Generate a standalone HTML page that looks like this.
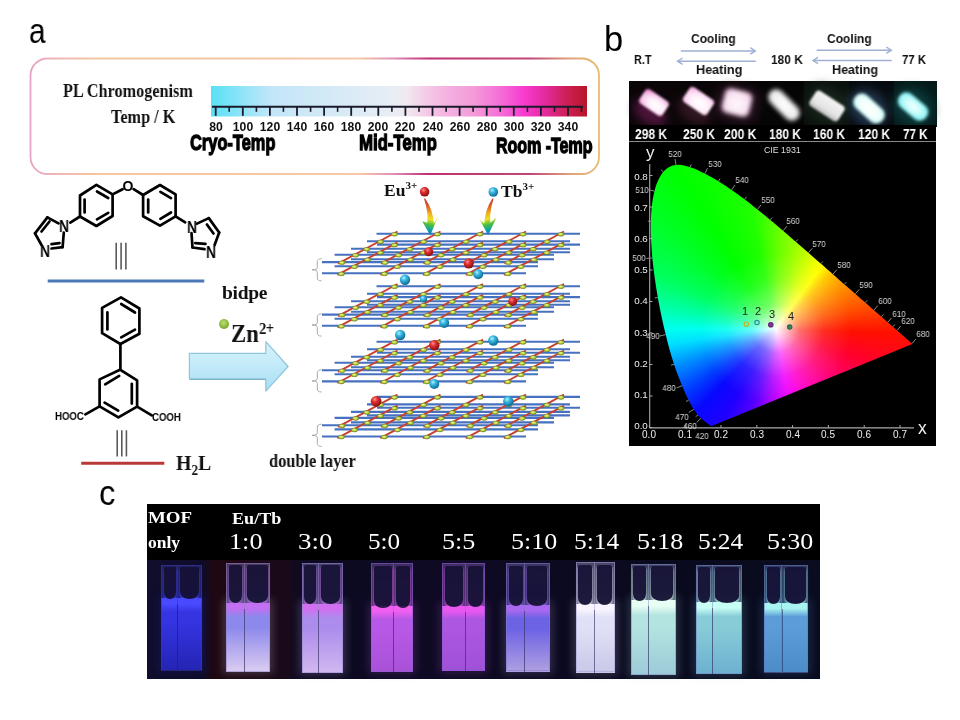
<!DOCTYPE html>
<html><head><meta charset="utf-8"><title>Figure</title>
<style>
html,body{margin:0;padding:0;background:#fff;}
body{width:960px;height:720px;position:relative;overflow:hidden;font-family:"Liberation Sans",sans-serif;}
.a{position:absolute;white-space:nowrap;line-height:1;will-change:transform;}
.sb{font-family:"Liberation Serif",serif;font-weight:bold;}
.sr{font-family:"Liberation Serif",serif;}
.lbl{font-family:"Liberation Sans",sans-serif;font-size:34px;color:#000;}
.imp{font-family:"Liberation Sans",sans-serif;font-weight:bold;transform-origin:0 0;-webkit-text-stroke:1.3px #000;color:#000;}
svg{position:absolute;left:0;top:0;overflow:visible;}
</style></head><body>

<div class="a lbl" style="left:29px;top:13px;font-size:35px;transform:scaleX(0.85);transform-origin:0 0;">a</div>
<div class="a lbl" style="left:604px;top:21.5px;font-size:34.5px;transform:scaleX(1.0);transform-origin:0 0;">b</div>
<div class="a lbl" style="left:99px;top:475.5px;font-size:34.5px;transform:scaleX(0.95);transform-origin:0 0;">c</div>
<svg width="960" height="720">
<defs>
<linearGradient id="bx" x1="30" y1="0" x2="599" y2="0" gradientUnits="userSpaceOnUse">
<stop offset="0" stop-color="#e7a3c4"/>
<stop offset="0.05" stop-color="#efb8b8"/>
<stop offset="0.12" stop-color="#f4c79c"/>
<stop offset="0.58" stop-color="#f4c8a8"/>
<stop offset="0.64" stop-color="#e08cb8"/>
<stop offset="0.70" stop-color="#c03070"/>
<stop offset="0.88" stop-color="#c04878"/>
<stop offset="0.95" stop-color="#dfa478"/>
<stop offset="1" stop-color="#e6bc70"/>
</linearGradient>
<linearGradient id="cb" x1="211" y1="0" x2="587" y2="0" gradientUnits="userSpaceOnUse">
<stop offset="0" stop-color="#58e0f6"/>
<stop offset="0.08" stop-color="#8ee4f8"/>
<stop offset="0.16" stop-color="#c2e6f8"/>
<stop offset="0.35" stop-color="#d8eaf6"/>
<stop offset="0.48" stop-color="#e8eef4"/>
<stop offset="0.52" stop-color="#f0eaf0"/>
<stop offset="0.57" stop-color="#f4cce8"/>
<stop offset="0.63" stop-color="#f4b0e0"/>
<stop offset="0.70" stop-color="#f49ad8"/>
<stop offset="0.77" stop-color="#f46ed8"/>
<stop offset="0.83" stop-color="#f83cd0"/>
<stop offset="0.88" stop-color="#e82ca8"/>
<stop offset="0.94" stop-color="#d0205c"/>
<stop offset="1" stop-color="#b81428"/>
</linearGradient>
</defs>
<rect x="30.5" y="58.5" width="568.5" height="115.5" rx="17" ry="17" fill="none" stroke="url(#bx)" stroke-width="1.8"/>
<rect x="211" y="86" width="376" height="30.5" fill="url(#cb)"/>

<line x1="212" y1="106.8" x2="583" y2="106.8" stroke="#1a1a2a" stroke-width="2"/>
<line x1="215.7" y1="106" x2="215.7" y2="115.8" stroke="#1a1a2a" stroke-width="1.8"/>
<line x1="242.8" y1="106" x2="242.8" y2="115.8" stroke="#1a1a2a" stroke-width="1.8"/>
<line x1="269.9" y1="106" x2="269.9" y2="115.8" stroke="#1a1a2a" stroke-width="1.8"/>
<line x1="297.0" y1="106" x2="297.0" y2="115.8" stroke="#1a1a2a" stroke-width="1.8"/>
<line x1="324.1" y1="106" x2="324.1" y2="115.8" stroke="#1a1a2a" stroke-width="1.8"/>
<line x1="351.2" y1="106" x2="351.2" y2="115.8" stroke="#1a1a2a" stroke-width="1.8"/>
<line x1="378.3" y1="106" x2="378.3" y2="115.8" stroke="#1a1a2a" stroke-width="1.8"/>
<line x1="405.4" y1="106" x2="405.4" y2="115.8" stroke="#1a1a2a" stroke-width="1.8"/>
<line x1="432.5" y1="106" x2="432.5" y2="115.8" stroke="#1a1a2a" stroke-width="1.8"/>
<line x1="459.6" y1="106" x2="459.6" y2="115.8" stroke="#1a1a2a" stroke-width="1.8"/>
<line x1="486.7" y1="106" x2="486.7" y2="115.8" stroke="#1a1a2a" stroke-width="1.8"/>
<line x1="513.8" y1="106" x2="513.8" y2="115.8" stroke="#1a1a2a" stroke-width="1.8"/>
<line x1="540.9" y1="106" x2="540.9" y2="115.8" stroke="#1a1a2a" stroke-width="1.8"/>
<line x1="568.0" y1="106" x2="568.0" y2="115.8" stroke="#1a1a2a" stroke-width="1.8"/>
<line x1="229.2" y1="106" x2="229.2" y2="111.8" stroke="#1a1a2a" stroke-width="1.6"/>
<line x1="256.4" y1="106" x2="256.4" y2="111.8" stroke="#1a1a2a" stroke-width="1.6"/>
<line x1="283.4" y1="106" x2="283.4" y2="111.8" stroke="#1a1a2a" stroke-width="1.6"/>
<line x1="310.6" y1="106" x2="310.6" y2="111.8" stroke="#1a1a2a" stroke-width="1.6"/>
<line x1="337.6" y1="106" x2="337.6" y2="111.8" stroke="#1a1a2a" stroke-width="1.6"/>
<line x1="364.8" y1="106" x2="364.8" y2="111.8" stroke="#1a1a2a" stroke-width="1.6"/>
<line x1="391.9" y1="106" x2="391.9" y2="111.8" stroke="#1a1a2a" stroke-width="1.6"/>
<line x1="419.0" y1="106" x2="419.0" y2="111.8" stroke="#1a1a2a" stroke-width="1.6"/>
<line x1="446.1" y1="106" x2="446.1" y2="111.8" stroke="#1a1a2a" stroke-width="1.6"/>
<line x1="473.1" y1="106" x2="473.1" y2="111.8" stroke="#1a1a2a" stroke-width="1.6"/>
<line x1="500.2" y1="106" x2="500.2" y2="111.8" stroke="#1a1a2a" stroke-width="1.6"/>
<line x1="527.4" y1="106" x2="527.4" y2="111.8" stroke="#1a1a2a" stroke-width="1.6"/>
<line x1="554.5" y1="106" x2="554.5" y2="111.8" stroke="#1a1a2a" stroke-width="1.6"/>
<line x1="581.5" y1="106" x2="581.5" y2="111.8" stroke="#1a1a2a" stroke-width="1.6"/>
</svg>
<div class="a" style="left:195.7px;top:120.8px;width:40px;text-align:center;font-weight:bold;font-size:12.2px;color:#111;">80</div>
<div class="a" style="left:222.8px;top:120.8px;width:40px;text-align:center;font-weight:bold;font-size:12.2px;color:#111;">100</div>
<div class="a" style="left:249.9px;top:120.8px;width:40px;text-align:center;font-weight:bold;font-size:12.2px;color:#111;">120</div>
<div class="a" style="left:277.0px;top:120.8px;width:40px;text-align:center;font-weight:bold;font-size:12.2px;color:#111;">140</div>
<div class="a" style="left:304.1px;top:120.8px;width:40px;text-align:center;font-weight:bold;font-size:12.2px;color:#111;">160</div>
<div class="a" style="left:331.2px;top:120.8px;width:40px;text-align:center;font-weight:bold;font-size:12.2px;color:#111;">180</div>
<div class="a" style="left:358.3px;top:120.8px;width:40px;text-align:center;font-weight:bold;font-size:12.2px;color:#111;">200</div>
<div class="a" style="left:385.4px;top:120.8px;width:40px;text-align:center;font-weight:bold;font-size:12.2px;color:#111;">220</div>
<div class="a" style="left:412.5px;top:120.8px;width:40px;text-align:center;font-weight:bold;font-size:12.2px;color:#111;">240</div>
<div class="a" style="left:439.6px;top:120.8px;width:40px;text-align:center;font-weight:bold;font-size:12.2px;color:#111;">260</div>
<div class="a" style="left:466.7px;top:120.8px;width:40px;text-align:center;font-weight:bold;font-size:12.2px;color:#111;">280</div>
<div class="a" style="left:493.8px;top:120.8px;width:40px;text-align:center;font-weight:bold;font-size:12.2px;color:#111;">300</div>
<div class="a" style="left:520.9px;top:120.8px;width:40px;text-align:center;font-weight:bold;font-size:12.2px;color:#111;">320</div>
<div class="a" style="left:548.0px;top:120.8px;width:40px;text-align:center;font-weight:bold;font-size:12.2px;color:#111;">340</div>
<div class="a sb" style="left:63px;top:81.6px;font-size:18px;color:#111;transform:scaleX(0.90);transform-origin:0 0;">PL Chromogenism</div>
<div class="a sb" style="left:111px;top:106.6px;font-size:19px;color:#111;transform:scaleX(0.855);transform-origin:0 0;">Temp / K</div>
<div class="a imp" style="left:190px;top:132px;font-size:22.5px;transform:scaleX(0.73);">Cryo-Temp</div>
<div class="a imp" style="left:358.8px;top:132.3px;font-size:22.5px;transform:scaleX(0.745);">Mid-Temp</div>
<div class="a imp" style="left:496px;top:135px;font-size:22.5px;transform:scaleX(0.71);">Room -Temp</div>
<div class="a" style="left:629px;top:81px;width:307px;height:365px;background:#000;"></div>
<svg width="960" height="720">
<polygon points="96.4,184.9 112.6,194.4 112.6,216.0 96.4,226.0 80.0,216.5 80.0,195.5" stroke="#000" stroke-width="2.7" fill="none" stroke-linecap="round" stroke-linejoin="round"/>
<line x1="84.6" y1="199.5" x2="84.6" y2="212.5" stroke="#000" stroke-width="2.7" fill="none" stroke-linecap="round" stroke-linejoin="round"/>
<line x1="97.0" y1="191.5" x2="108.2" y2="198.0" stroke="#000" stroke-width="2.7" fill="none" stroke-linecap="round" stroke-linejoin="round"/>
<line x1="97.0" y1="219.3" x2="108.2" y2="212.8" stroke="#000" stroke-width="2.7" fill="none" stroke-linecap="round" stroke-linejoin="round"/>
<polygon points="160.0,185.0 175.6,194.4 175.6,216.3 160.0,225.6 143.1,216.3 143.1,195.0" stroke="#000" stroke-width="2.7" fill="none" stroke-linecap="round" stroke-linejoin="round"/>
<line x1="148.2" y1="199.5" x2="148.2" y2="212.5" stroke="#000" stroke-width="2.7" fill="none" stroke-linecap="round" stroke-linejoin="round"/>
<line x1="160.4" y1="191.8" x2="171.0" y2="198.1" stroke="#000" stroke-width="2.7" fill="none" stroke-linecap="round" stroke-linejoin="round"/>
<line x1="160.4" y1="218.8" x2="171.0" y2="212.5" stroke="#000" stroke-width="2.7" fill="none" stroke-linecap="round" stroke-linejoin="round"/>
<line x1="112.6" y1="194.4" x2="122.6" y2="189.2" stroke="#000" stroke-width="2.7" fill="none" stroke-linecap="round" stroke-linejoin="round"/>
<line x1="133.6" y1="189.2" x2="143.1" y2="195.0" stroke="#000" stroke-width="2.7" fill="none" stroke-linecap="round" stroke-linejoin="round"/>
<line x1="80.0" y1="216.5" x2="70.3" y2="222.6" stroke="#000" stroke-width="2.7" fill="none" stroke-linecap="round" stroke-linejoin="round"/>
<line x1="175.6" y1="216.3" x2="185.2" y2="222.4" stroke="#000" stroke-width="2.7" fill="none" stroke-linecap="round" stroke-linejoin="round"/>
<line x1="58.5" y1="223.4" x2="47.4" y2="217.4" stroke="#000" stroke-width="2.7" fill="none" stroke-linecap="round" stroke-linejoin="round"/>
<line x1="47.4" y1="217.4" x2="35.0" y2="233.3" stroke="#000" stroke-width="2.7" fill="none" stroke-linecap="round" stroke-linejoin="round"/>
<line x1="35.0" y1="233.3" x2="41.5" y2="245.0" stroke="#000" stroke-width="2.7" fill="none" stroke-linecap="round" stroke-linejoin="round"/>
<line x1="63.8" y1="232.5" x2="62.6" y2="247.2" stroke="#000" stroke-width="2.7" fill="none" stroke-linecap="round" stroke-linejoin="round"/>
<line x1="62.6" y1="247.2" x2="51.5" y2="248.5" stroke="#000" stroke-width="2.7" fill="none" stroke-linecap="round" stroke-linejoin="round"/>
<line x1="41.5" y1="231.5" x2="49.5" y2="221.5" stroke="#000" stroke-width="2.7" fill="none" stroke-linecap="round" stroke-linejoin="round"/>
<line x1="51.5" y1="244.2" x2="59.5" y2="243.2" stroke="#000" stroke-width="2.7" fill="none" stroke-linecap="round" stroke-linejoin="round"/>
<line x1="197.0" y1="223.6" x2="208.8" y2="218.1" stroke="#000" stroke-width="2.7" fill="none" stroke-linecap="round" stroke-linejoin="round"/>
<line x1="208.8" y1="218.1" x2="219.2" y2="232.5" stroke="#000" stroke-width="2.7" fill="none" stroke-linecap="round" stroke-linejoin="round"/>
<line x1="219.2" y1="232.5" x2="214.6" y2="245.0" stroke="#000" stroke-width="2.7" fill="none" stroke-linecap="round" stroke-linejoin="round"/>
<line x1="191.5" y1="233.0" x2="192.5" y2="247.5" stroke="#000" stroke-width="2.7" fill="none" stroke-linecap="round" stroke-linejoin="round"/>
<line x1="192.5" y1="247.5" x2="204.5" y2="249.2" stroke="#000" stroke-width="2.7" fill="none" stroke-linecap="round" stroke-linejoin="round"/>
<line x1="206.9" y1="224.5" x2="213.5" y2="233.5" stroke="#000" stroke-width="2.7" fill="none" stroke-linecap="round" stroke-linejoin="round"/>
<line x1="195.3" y1="243.2" x2="205.5" y2="243.8" stroke="#000" stroke-width="2.7" fill="none" stroke-linecap="round" stroke-linejoin="round"/>
<polygon points="121.0,297.4 139.4,308.5 139.4,333.7 120.4,344.0 102.1,333.2 102.1,307.9" stroke="#000" stroke-width="2.7" fill="none" stroke-linecap="round" stroke-linejoin="round"/>
<line x1="107.4" y1="312.4" x2="107.4" y2="329.4" stroke="#000" stroke-width="2.7" fill="none" stroke-linecap="round" stroke-linejoin="round"/>
<line x1="121.2" y1="304.0" x2="135.0" y2="312.5" stroke="#000" stroke-width="2.7" fill="none" stroke-linecap="round" stroke-linejoin="round"/>
<line x1="121.2" y1="337.4" x2="135.0" y2="329.6" stroke="#000" stroke-width="2.7" fill="none" stroke-linecap="round" stroke-linejoin="round"/>
<line x1="120.4" y1="344.0" x2="120.4" y2="369.7" stroke="#000" stroke-width="2.7" fill="none" stroke-linecap="round" stroke-linejoin="round"/>
<polygon points="120.0,369.7 137.1,380.4 137.1,406.7 118.4,417.4 99.6,406.3 99.6,379.4" stroke="#000" stroke-width="2.7" fill="none" stroke-linecap="round" stroke-linejoin="round"/>
<line x1="105.2" y1="384.4" x2="119.2" y2="375.9" stroke="#000" stroke-width="2.7" fill="none" stroke-linecap="round" stroke-linejoin="round"/>
<line x1="131.8" y1="383.8" x2="131.8" y2="403.6" stroke="#000" stroke-width="2.7" fill="none" stroke-linecap="round" stroke-linejoin="round"/>
<line x1="104.6" y1="402.6" x2="118.2" y2="410.6" stroke="#000" stroke-width="2.7" fill="none" stroke-linecap="round" stroke-linejoin="round"/>
<line x1="99.6" y1="406.3" x2="85.4" y2="414.4" stroke="#000" stroke-width="2.7" fill="none" stroke-linecap="round" stroke-linejoin="round"/>
<line x1="137.1" y1="406.7" x2="151.8" y2="415.4" stroke="#000" stroke-width="2.7" fill="none" stroke-linecap="round" stroke-linejoin="round"/>
</svg>
<div class="a" style="left:56.4px;top:219.3px;width:16px;text-align:center;font-size:16px;font-weight:bold;color:#000;transform:scaleX(0.86);">N</div>
<div class="a" style="left:37.4px;top:244.4px;width:16px;text-align:center;font-size:16px;font-weight:bold;color:#000;transform:scaleX(0.86);">N</div>
<div class="a" style="left:183.6px;top:219.7px;width:16px;text-align:center;font-size:16px;font-weight:bold;color:#000;transform:scaleX(0.86);">N</div>
<div class="a" style="left:202.8px;top:244.9px;width:16px;text-align:center;font-size:16px;font-weight:bold;color:#000;transform:scaleX(0.86);">N</div>
<div class="a" style="left:120.1px;top:178.8px;width:16px;text-align:center;font-size:14px;font-weight:bold;color:#000;">O</div>
<div class="a" style="left:55.3px;top:411.9px;font-size:10px;font-weight:bold;color:#000;transform:scaleX(0.96);transform-origin:0 0;">HOOC</div>
<div class="a" style="left:151.5px;top:413.4px;font-size:10px;font-weight:bold;color:#000;transform:scaleX(0.96);transform-origin:0 0;">COOH</div>
<svg width="960" height="720">
<line x1="116.2" y1="242.8" x2="116.2" y2="269.4" stroke="#5a5a5a" stroke-width="1.6"/>
<line x1="121.1" y1="242.8" x2="121.1" y2="269.4" stroke="#5a5a5a" stroke-width="1.6"/>
<line x1="125.9" y1="242.8" x2="125.9" y2="269.4" stroke="#5a5a5a" stroke-width="1.6"/>
<line x1="117.2" y1="430.3" x2="117.2" y2="456.4" stroke="#5a5a5a" stroke-width="1.6"/>
<line x1="121.8" y1="430.3" x2="121.8" y2="456.4" stroke="#5a5a5a" stroke-width="1.6"/>
<line x1="126.4" y1="430.3" x2="126.4" y2="456.4" stroke="#5a5a5a" stroke-width="1.6"/>
<line x1="47.7" y1="280.9" x2="204.3" y2="280.9" stroke="#4a78b8" stroke-width="3"/>
<line x1="81.2" y1="463.2" x2="164.3" y2="463.2" stroke="#b83838" stroke-width="3"/>
</svg>
<div class="a sb" style="left:221.5px;top:283.3px;font-size:19.5px;color:#111;letter-spacing:-0.3px;">bidpe</div>
<div class="a sb" style="left:175.8px;top:452.2px;font-size:22px;color:#111;transform:scaleX(0.9);transform-origin:0 0;">H<span style="font-size:14.5px;vertical-align:-5px;">2</span>L</div>
<div class="a sb" style="left:268.8px;top:452.6px;font-size:17.8px;color:#111;transform:scaleX(0.92);transform-origin:0 0;">double layer</div>
<div class="a" style="left:218.7px;top:319.2px;width:10px;height:10px;border-radius:50%;background:radial-gradient(circle at 45% 38%,#c0dc78 0%,#8cbc40 50%,#5a8820 100%);"></div>
<div class="a sb" style="left:230.6px;top:321.2px;font-size:24.6px;color:#111;transform:scaleX(0.92);transform-origin:0 0;">Zn<span style="font-size:16px;vertical-align:7.8px;margin-left:0.3px;letter-spacing:-0.6px;">2+</span></div>
<svg width="960" height="720"><defs><linearGradient id="arw" x1="0" y1="341" x2="0" y2="391" gradientUnits="userSpaceOnUse">
<stop offset="0" stop-color="#d8f2fc"/><stop offset="0.5" stop-color="#c2eaf9"/><stop offset="1" stop-color="#a8def4"/></linearGradient></defs>
<polygon points="189.4,353.3 265.8,353.3 265.8,341.6 288.1,366.5 265.8,391.1 265.8,379.1 189.4,379.1" fill="url(#arw)" stroke="#8ec6dc" stroke-width="1.2" stroke-linejoin="round"/>
<line x1="190" y1="379.4" x2="265.5" y2="379.4" stroke="#7eb4c8" stroke-width="1.2"/></svg>
<svg width="960" height="720"><defs>
<radialGradient id="yel" cx="45%" cy="40%" r="60%"><stop offset="0" stop-color="#eef6a0"/><stop offset="0.55" stop-color="#bcd440"/><stop offset="1" stop-color="#7c9420"/></radialGradient>
<radialGradient id="rb" cx="38%" cy="32%" r="65%"><stop offset="0" stop-color="#ff9090"/><stop offset="0.4" stop-color="#e03030"/><stop offset="1" stop-color="#901010"/></radialGradient>
<radialGradient id="bb" cx="38%" cy="32%" r="65%"><stop offset="0" stop-color="#b0f0ff"/><stop offset="0.4" stop-color="#38b8e0"/><stop offset="1" stop-color="#10709a"/></radialGradient>
<linearGradient id="rbw1" x1="433" y1="199" x2="425" y2="235" gradientUnits="userSpaceOnUse"><stop offset="0" stop-color="#b83040"/><stop offset="0.22" stop-color="#d86028"/><stop offset="0.4" stop-color="#f0b020"/><stop offset="0.55" stop-color="#eee020"/><stop offset="0.7" stop-color="#48c040"/><stop offset="0.84" stop-color="#10a0a8"/><stop offset="1" stop-color="#1868d0"/></linearGradient>
<linearGradient id="rbw2" x1="484" y1="199" x2="492" y2="235" gradientUnits="userSpaceOnUse"><stop offset="0" stop-color="#b83040"/><stop offset="0.22" stop-color="#d86028"/><stop offset="0.4" stop-color="#f0b020"/><stop offset="0.55" stop-color="#eee020"/><stop offset="0.7" stop-color="#48c040"/><stop offset="0.84" stop-color="#10a0a8"/><stop offset="1" stop-color="#1868d0"/></linearGradient>
</defs>
<line x1="376.5" y1="233.7" x2="580" y2="233.7" stroke="#4670c0" stroke-width="2.1"/>
<line x1="367" y1="241.2" x2="570" y2="241.2" stroke="#4670c0" stroke-width="2.1"/>
<line x1="351" y1="248.7" x2="570" y2="248.7" stroke="#4670c0" stroke-width="2.1"/>
<line x1="334.6" y1="254.7" x2="554" y2="254.7" stroke="#4670c0" stroke-width="2.1"/>
<line x1="322" y1="262.1" x2="538" y2="262.1" stroke="#4670c0" stroke-width="2.1"/>
<line x1="377" y1="244.6" x2="580" y2="244.6" stroke="#4670c0" stroke-width="2.1"/>
<line x1="367" y1="252.2" x2="570" y2="252.2" stroke="#4670c0" stroke-width="2.1"/>
<line x1="351" y1="259.2" x2="554" y2="259.2" stroke="#4670c0" stroke-width="2.1"/>
<line x1="334.6" y1="266.2" x2="538" y2="266.2" stroke="#4670c0" stroke-width="2.1"/>
<line x1="322" y1="273.3" x2="526" y2="273.3" stroke="#4670c0" stroke-width="2.1"/>
<line x1="338.0" y1="263.7" x2="397.5" y2="231.5" stroke="#c8402e" stroke-width="1.9"/>
<line x1="381.0" y1="263.7" x2="440.5" y2="231.5" stroke="#c8402e" stroke-width="1.9"/>
<line x1="423.5" y1="263.7" x2="483.0" y2="231.5" stroke="#c8402e" stroke-width="1.9"/>
<line x1="466.5" y1="263.7" x2="526.0" y2="231.5" stroke="#c8402e" stroke-width="1.9"/>
<line x1="504.5" y1="263.7" x2="564.0" y2="231.5" stroke="#c8402e" stroke-width="1.9"/>
<line x1="337.4" y1="274.9" x2="397.5" y2="242.4" stroke="#c8402e" stroke-width="1.9"/>
<line x1="380.4" y1="274.9" x2="440.5" y2="242.4" stroke="#c8402e" stroke-width="1.9"/>
<line x1="422.9" y1="274.9" x2="483.0" y2="242.4" stroke="#c8402e" stroke-width="1.9"/>
<line x1="465.9" y1="274.9" x2="526.0" y2="242.4" stroke="#c8402e" stroke-width="1.9"/>
<line x1="503.9" y1="274.9" x2="564.0" y2="242.4" stroke="#c8402e" stroke-width="1.9"/>
<ellipse cx="394.5" cy="234.3" rx="3.2" ry="1.9" fill="url(#yel)" stroke="#6a7818" stroke-width="0.5"/>
<ellipse cx="380.6" cy="241.8" rx="3.2" ry="1.9" fill="url(#yel)" stroke="#6a7818" stroke-width="0.5"/>
<ellipse cx="366.8" cy="249.3" rx="3.2" ry="1.9" fill="url(#yel)" stroke="#6a7818" stroke-width="0.5"/>
<ellipse cx="355.6" cy="255.3" rx="3.2" ry="1.9" fill="url(#yel)" stroke="#6a7818" stroke-width="0.5"/>
<ellipse cx="342.0" cy="262.7" rx="3.2" ry="1.9" fill="url(#yel)" stroke="#6a7818" stroke-width="0.5"/>
<ellipse cx="437.5" cy="234.3" rx="3.2" ry="1.9" fill="url(#yel)" stroke="#6a7818" stroke-width="0.5"/>
<ellipse cx="423.6" cy="241.8" rx="3.2" ry="1.9" fill="url(#yel)" stroke="#6a7818" stroke-width="0.5"/>
<ellipse cx="409.8" cy="249.3" rx="3.2" ry="1.9" fill="url(#yel)" stroke="#6a7818" stroke-width="0.5"/>
<ellipse cx="398.6" cy="255.3" rx="3.2" ry="1.9" fill="url(#yel)" stroke="#6a7818" stroke-width="0.5"/>
<ellipse cx="385.0" cy="262.7" rx="3.2" ry="1.9" fill="url(#yel)" stroke="#6a7818" stroke-width="0.5"/>
<ellipse cx="480.0" cy="234.3" rx="3.2" ry="1.9" fill="url(#yel)" stroke="#6a7818" stroke-width="0.5"/>
<ellipse cx="466.1" cy="241.8" rx="3.2" ry="1.9" fill="url(#yel)" stroke="#6a7818" stroke-width="0.5"/>
<ellipse cx="452.2" cy="249.3" rx="3.2" ry="1.9" fill="url(#yel)" stroke="#6a7818" stroke-width="0.5"/>
<ellipse cx="441.1" cy="255.3" rx="3.2" ry="1.9" fill="url(#yel)" stroke="#6a7818" stroke-width="0.5"/>
<ellipse cx="427.5" cy="262.7" rx="3.2" ry="1.9" fill="url(#yel)" stroke="#6a7818" stroke-width="0.5"/>
<ellipse cx="523.0" cy="234.3" rx="3.2" ry="1.9" fill="url(#yel)" stroke="#6a7818" stroke-width="0.5"/>
<ellipse cx="509.1" cy="241.8" rx="3.2" ry="1.9" fill="url(#yel)" stroke="#6a7818" stroke-width="0.5"/>
<ellipse cx="495.2" cy="249.3" rx="3.2" ry="1.9" fill="url(#yel)" stroke="#6a7818" stroke-width="0.5"/>
<ellipse cx="484.1" cy="255.3" rx="3.2" ry="1.9" fill="url(#yel)" stroke="#6a7818" stroke-width="0.5"/>
<ellipse cx="470.5" cy="262.7" rx="3.2" ry="1.9" fill="url(#yel)" stroke="#6a7818" stroke-width="0.5"/>
<ellipse cx="561.0" cy="234.3" rx="3.2" ry="1.9" fill="url(#yel)" stroke="#6a7818" stroke-width="0.5"/>
<ellipse cx="547.1" cy="241.8" rx="3.2" ry="1.9" fill="url(#yel)" stroke="#6a7818" stroke-width="0.5"/>
<ellipse cx="533.2" cy="249.3" rx="3.2" ry="1.9" fill="url(#yel)" stroke="#6a7818" stroke-width="0.5"/>
<ellipse cx="522.1" cy="255.3" rx="3.2" ry="1.9" fill="url(#yel)" stroke="#6a7818" stroke-width="0.5"/>
<ellipse cx="508.5" cy="262.7" rx="3.2" ry="1.9" fill="url(#yel)" stroke="#6a7818" stroke-width="0.5"/>
<ellipse cx="394.5" cy="245.2" rx="3.2" ry="1.9" fill="url(#yel)" stroke="#6a7818" stroke-width="0.5"/>
<ellipse cx="380.4" cy="252.8" rx="3.2" ry="1.9" fill="url(#yel)" stroke="#6a7818" stroke-width="0.5"/>
<ellipse cx="367.5" cy="259.8" rx="3.2" ry="1.9" fill="url(#yel)" stroke="#6a7818" stroke-width="0.5"/>
<ellipse cx="354.5" cy="266.8" rx="3.2" ry="1.9" fill="url(#yel)" stroke="#6a7818" stroke-width="0.5"/>
<ellipse cx="341.4" cy="273.9" rx="3.2" ry="1.9" fill="url(#yel)" stroke="#6a7818" stroke-width="0.5"/>
<ellipse cx="437.5" cy="245.2" rx="3.2" ry="1.9" fill="url(#yel)" stroke="#6a7818" stroke-width="0.5"/>
<ellipse cx="423.4" cy="252.8" rx="3.2" ry="1.9" fill="url(#yel)" stroke="#6a7818" stroke-width="0.5"/>
<ellipse cx="410.5" cy="259.8" rx="3.2" ry="1.9" fill="url(#yel)" stroke="#6a7818" stroke-width="0.5"/>
<ellipse cx="397.5" cy="266.8" rx="3.2" ry="1.9" fill="url(#yel)" stroke="#6a7818" stroke-width="0.5"/>
<ellipse cx="384.4" cy="273.9" rx="3.2" ry="1.9" fill="url(#yel)" stroke="#6a7818" stroke-width="0.5"/>
<ellipse cx="480.0" cy="245.2" rx="3.2" ry="1.9" fill="url(#yel)" stroke="#6a7818" stroke-width="0.5"/>
<ellipse cx="465.9" cy="252.8" rx="3.2" ry="1.9" fill="url(#yel)" stroke="#6a7818" stroke-width="0.5"/>
<ellipse cx="453.0" cy="259.8" rx="3.2" ry="1.9" fill="url(#yel)" stroke="#6a7818" stroke-width="0.5"/>
<ellipse cx="440.0" cy="266.8" rx="3.2" ry="1.9" fill="url(#yel)" stroke="#6a7818" stroke-width="0.5"/>
<ellipse cx="426.9" cy="273.9" rx="3.2" ry="1.9" fill="url(#yel)" stroke="#6a7818" stroke-width="0.5"/>
<ellipse cx="523.0" cy="245.2" rx="3.2" ry="1.9" fill="url(#yel)" stroke="#6a7818" stroke-width="0.5"/>
<ellipse cx="508.9" cy="252.8" rx="3.2" ry="1.9" fill="url(#yel)" stroke="#6a7818" stroke-width="0.5"/>
<ellipse cx="496.0" cy="259.8" rx="3.2" ry="1.9" fill="url(#yel)" stroke="#6a7818" stroke-width="0.5"/>
<ellipse cx="483.0" cy="266.8" rx="3.2" ry="1.9" fill="url(#yel)" stroke="#6a7818" stroke-width="0.5"/>
<ellipse cx="469.9" cy="273.9" rx="3.2" ry="1.9" fill="url(#yel)" stroke="#6a7818" stroke-width="0.5"/>
<ellipse cx="561.0" cy="245.2" rx="3.2" ry="1.9" fill="url(#yel)" stroke="#6a7818" stroke-width="0.5"/>
<ellipse cx="546.9" cy="252.8" rx="3.2" ry="1.9" fill="url(#yel)" stroke="#6a7818" stroke-width="0.5"/>
<ellipse cx="534.0" cy="259.8" rx="3.2" ry="1.9" fill="url(#yel)" stroke="#6a7818" stroke-width="0.5"/>
<ellipse cx="521.0" cy="266.8" rx="3.2" ry="1.9" fill="url(#yel)" stroke="#6a7818" stroke-width="0.5"/>
<ellipse cx="507.9" cy="273.9" rx="3.2" ry="1.9" fill="url(#yel)" stroke="#6a7818" stroke-width="0.5"/>
<path d="M321.5,258.7 Q317.3,258.7 317.3,261.7 L317.3,267.3 Q317.3,269.8 312,269.8 Q317.3,269.8 317.3,272.3 L317.3,277.9 Q317.3,280.9 321.5,280.9" fill="none" stroke="#a8a8a0" stroke-width="1"/>
<line x1="376.5" y1="286.2" x2="580" y2="286.2" stroke="#4670c0" stroke-width="2.1"/>
<line x1="367" y1="293.7" x2="570" y2="293.7" stroke="#4670c0" stroke-width="2.1"/>
<line x1="351" y1="301.2" x2="570" y2="301.2" stroke="#4670c0" stroke-width="2.1"/>
<line x1="334.6" y1="307.2" x2="554" y2="307.2" stroke="#4670c0" stroke-width="2.1"/>
<line x1="322" y1="314.6" x2="538" y2="314.6" stroke="#4670c0" stroke-width="2.1"/>
<line x1="377" y1="297.1" x2="580" y2="297.1" stroke="#4670c0" stroke-width="2.1"/>
<line x1="367" y1="304.7" x2="570" y2="304.7" stroke="#4670c0" stroke-width="2.1"/>
<line x1="351" y1="311.7" x2="554" y2="311.7" stroke="#4670c0" stroke-width="2.1"/>
<line x1="334.6" y1="318.7" x2="538" y2="318.7" stroke="#4670c0" stroke-width="2.1"/>
<line x1="322" y1="325.8" x2="526" y2="325.8" stroke="#4670c0" stroke-width="2.1"/>
<line x1="338.0" y1="316.2" x2="397.5" y2="284.0" stroke="#c8402e" stroke-width="1.9"/>
<line x1="381.0" y1="316.2" x2="440.5" y2="284.0" stroke="#c8402e" stroke-width="1.9"/>
<line x1="423.5" y1="316.2" x2="483.0" y2="284.0" stroke="#c8402e" stroke-width="1.9"/>
<line x1="466.5" y1="316.2" x2="526.0" y2="284.0" stroke="#c8402e" stroke-width="1.9"/>
<line x1="504.5" y1="316.2" x2="564.0" y2="284.0" stroke="#c8402e" stroke-width="1.9"/>
<line x1="337.4" y1="327.4" x2="397.5" y2="294.9" stroke="#c8402e" stroke-width="1.9"/>
<line x1="380.4" y1="327.4" x2="440.5" y2="294.9" stroke="#c8402e" stroke-width="1.9"/>
<line x1="422.9" y1="327.4" x2="483.0" y2="294.9" stroke="#c8402e" stroke-width="1.9"/>
<line x1="465.9" y1="327.4" x2="526.0" y2="294.9" stroke="#c8402e" stroke-width="1.9"/>
<line x1="503.9" y1="327.4" x2="564.0" y2="294.9" stroke="#c8402e" stroke-width="1.9"/>
<ellipse cx="394.5" cy="286.8" rx="3.2" ry="1.9" fill="url(#yel)" stroke="#6a7818" stroke-width="0.5"/>
<ellipse cx="380.6" cy="294.3" rx="3.2" ry="1.9" fill="url(#yel)" stroke="#6a7818" stroke-width="0.5"/>
<ellipse cx="366.8" cy="301.8" rx="3.2" ry="1.9" fill="url(#yel)" stroke="#6a7818" stroke-width="0.5"/>
<ellipse cx="355.6" cy="307.8" rx="3.2" ry="1.9" fill="url(#yel)" stroke="#6a7818" stroke-width="0.5"/>
<ellipse cx="342.0" cy="315.2" rx="3.2" ry="1.9" fill="url(#yel)" stroke="#6a7818" stroke-width="0.5"/>
<ellipse cx="437.5" cy="286.8" rx="3.2" ry="1.9" fill="url(#yel)" stroke="#6a7818" stroke-width="0.5"/>
<ellipse cx="423.6" cy="294.3" rx="3.2" ry="1.9" fill="url(#yel)" stroke="#6a7818" stroke-width="0.5"/>
<ellipse cx="409.8" cy="301.8" rx="3.2" ry="1.9" fill="url(#yel)" stroke="#6a7818" stroke-width="0.5"/>
<ellipse cx="398.6" cy="307.8" rx="3.2" ry="1.9" fill="url(#yel)" stroke="#6a7818" stroke-width="0.5"/>
<ellipse cx="385.0" cy="315.2" rx="3.2" ry="1.9" fill="url(#yel)" stroke="#6a7818" stroke-width="0.5"/>
<ellipse cx="480.0" cy="286.8" rx="3.2" ry="1.9" fill="url(#yel)" stroke="#6a7818" stroke-width="0.5"/>
<ellipse cx="466.1" cy="294.3" rx="3.2" ry="1.9" fill="url(#yel)" stroke="#6a7818" stroke-width="0.5"/>
<ellipse cx="452.2" cy="301.8" rx="3.2" ry="1.9" fill="url(#yel)" stroke="#6a7818" stroke-width="0.5"/>
<ellipse cx="441.1" cy="307.8" rx="3.2" ry="1.9" fill="url(#yel)" stroke="#6a7818" stroke-width="0.5"/>
<ellipse cx="427.5" cy="315.2" rx="3.2" ry="1.9" fill="url(#yel)" stroke="#6a7818" stroke-width="0.5"/>
<ellipse cx="523.0" cy="286.8" rx="3.2" ry="1.9" fill="url(#yel)" stroke="#6a7818" stroke-width="0.5"/>
<ellipse cx="509.1" cy="294.3" rx="3.2" ry="1.9" fill="url(#yel)" stroke="#6a7818" stroke-width="0.5"/>
<ellipse cx="495.2" cy="301.8" rx="3.2" ry="1.9" fill="url(#yel)" stroke="#6a7818" stroke-width="0.5"/>
<ellipse cx="484.1" cy="307.8" rx="3.2" ry="1.9" fill="url(#yel)" stroke="#6a7818" stroke-width="0.5"/>
<ellipse cx="470.5" cy="315.2" rx="3.2" ry="1.9" fill="url(#yel)" stroke="#6a7818" stroke-width="0.5"/>
<ellipse cx="561.0" cy="286.8" rx="3.2" ry="1.9" fill="url(#yel)" stroke="#6a7818" stroke-width="0.5"/>
<ellipse cx="547.1" cy="294.3" rx="3.2" ry="1.9" fill="url(#yel)" stroke="#6a7818" stroke-width="0.5"/>
<ellipse cx="533.2" cy="301.8" rx="3.2" ry="1.9" fill="url(#yel)" stroke="#6a7818" stroke-width="0.5"/>
<ellipse cx="522.1" cy="307.8" rx="3.2" ry="1.9" fill="url(#yel)" stroke="#6a7818" stroke-width="0.5"/>
<ellipse cx="508.5" cy="315.2" rx="3.2" ry="1.9" fill="url(#yel)" stroke="#6a7818" stroke-width="0.5"/>
<ellipse cx="394.5" cy="297.7" rx="3.2" ry="1.9" fill="url(#yel)" stroke="#6a7818" stroke-width="0.5"/>
<ellipse cx="380.4" cy="305.3" rx="3.2" ry="1.9" fill="url(#yel)" stroke="#6a7818" stroke-width="0.5"/>
<ellipse cx="367.5" cy="312.3" rx="3.2" ry="1.9" fill="url(#yel)" stroke="#6a7818" stroke-width="0.5"/>
<ellipse cx="354.5" cy="319.3" rx="3.2" ry="1.9" fill="url(#yel)" stroke="#6a7818" stroke-width="0.5"/>
<ellipse cx="341.4" cy="326.4" rx="3.2" ry="1.9" fill="url(#yel)" stroke="#6a7818" stroke-width="0.5"/>
<ellipse cx="437.5" cy="297.7" rx="3.2" ry="1.9" fill="url(#yel)" stroke="#6a7818" stroke-width="0.5"/>
<ellipse cx="423.4" cy="305.3" rx="3.2" ry="1.9" fill="url(#yel)" stroke="#6a7818" stroke-width="0.5"/>
<ellipse cx="410.5" cy="312.3" rx="3.2" ry="1.9" fill="url(#yel)" stroke="#6a7818" stroke-width="0.5"/>
<ellipse cx="397.5" cy="319.3" rx="3.2" ry="1.9" fill="url(#yel)" stroke="#6a7818" stroke-width="0.5"/>
<ellipse cx="384.4" cy="326.4" rx="3.2" ry="1.9" fill="url(#yel)" stroke="#6a7818" stroke-width="0.5"/>
<ellipse cx="480.0" cy="297.7" rx="3.2" ry="1.9" fill="url(#yel)" stroke="#6a7818" stroke-width="0.5"/>
<ellipse cx="465.9" cy="305.3" rx="3.2" ry="1.9" fill="url(#yel)" stroke="#6a7818" stroke-width="0.5"/>
<ellipse cx="453.0" cy="312.3" rx="3.2" ry="1.9" fill="url(#yel)" stroke="#6a7818" stroke-width="0.5"/>
<ellipse cx="440.0" cy="319.3" rx="3.2" ry="1.9" fill="url(#yel)" stroke="#6a7818" stroke-width="0.5"/>
<ellipse cx="426.9" cy="326.4" rx="3.2" ry="1.9" fill="url(#yel)" stroke="#6a7818" stroke-width="0.5"/>
<ellipse cx="523.0" cy="297.7" rx="3.2" ry="1.9" fill="url(#yel)" stroke="#6a7818" stroke-width="0.5"/>
<ellipse cx="508.9" cy="305.3" rx="3.2" ry="1.9" fill="url(#yel)" stroke="#6a7818" stroke-width="0.5"/>
<ellipse cx="496.0" cy="312.3" rx="3.2" ry="1.9" fill="url(#yel)" stroke="#6a7818" stroke-width="0.5"/>
<ellipse cx="483.0" cy="319.3" rx="3.2" ry="1.9" fill="url(#yel)" stroke="#6a7818" stroke-width="0.5"/>
<ellipse cx="469.9" cy="326.4" rx="3.2" ry="1.9" fill="url(#yel)" stroke="#6a7818" stroke-width="0.5"/>
<ellipse cx="561.0" cy="297.7" rx="3.2" ry="1.9" fill="url(#yel)" stroke="#6a7818" stroke-width="0.5"/>
<ellipse cx="546.9" cy="305.3" rx="3.2" ry="1.9" fill="url(#yel)" stroke="#6a7818" stroke-width="0.5"/>
<ellipse cx="534.0" cy="312.3" rx="3.2" ry="1.9" fill="url(#yel)" stroke="#6a7818" stroke-width="0.5"/>
<ellipse cx="521.0" cy="319.3" rx="3.2" ry="1.9" fill="url(#yel)" stroke="#6a7818" stroke-width="0.5"/>
<ellipse cx="507.9" cy="326.4" rx="3.2" ry="1.9" fill="url(#yel)" stroke="#6a7818" stroke-width="0.5"/>
<path d="M321.5,313.9 Q317.3,313.9 317.3,316.9 L317.3,322.5 Q317.3,325.0 312,325.0 Q317.3,325.0 317.3,327.5 L317.3,333.1 Q317.3,336.1 321.5,336.1" fill="none" stroke="#a8a8a0" stroke-width="1"/>
<line x1="376.5" y1="341.8" x2="580" y2="341.8" stroke="#4670c0" stroke-width="2.1"/>
<line x1="367" y1="349.3" x2="570" y2="349.3" stroke="#4670c0" stroke-width="2.1"/>
<line x1="351" y1="356.8" x2="570" y2="356.8" stroke="#4670c0" stroke-width="2.1"/>
<line x1="334.6" y1="362.8" x2="554" y2="362.8" stroke="#4670c0" stroke-width="2.1"/>
<line x1="322" y1="370.2" x2="538" y2="370.2" stroke="#4670c0" stroke-width="2.1"/>
<line x1="377" y1="352.7" x2="580" y2="352.7" stroke="#4670c0" stroke-width="2.1"/>
<line x1="367" y1="360.3" x2="570" y2="360.3" stroke="#4670c0" stroke-width="2.1"/>
<line x1="351" y1="367.3" x2="554" y2="367.3" stroke="#4670c0" stroke-width="2.1"/>
<line x1="334.6" y1="374.3" x2="538" y2="374.3" stroke="#4670c0" stroke-width="2.1"/>
<line x1="322" y1="381.4" x2="526" y2="381.4" stroke="#4670c0" stroke-width="2.1"/>
<line x1="338.0" y1="371.8" x2="397.5" y2="339.6" stroke="#c8402e" stroke-width="1.9"/>
<line x1="381.0" y1="371.8" x2="440.5" y2="339.6" stroke="#c8402e" stroke-width="1.9"/>
<line x1="423.5" y1="371.8" x2="483.0" y2="339.6" stroke="#c8402e" stroke-width="1.9"/>
<line x1="466.5" y1="371.8" x2="526.0" y2="339.6" stroke="#c8402e" stroke-width="1.9"/>
<line x1="504.5" y1="371.8" x2="564.0" y2="339.6" stroke="#c8402e" stroke-width="1.9"/>
<line x1="337.4" y1="383.0" x2="397.5" y2="350.5" stroke="#c8402e" stroke-width="1.9"/>
<line x1="380.4" y1="383.0" x2="440.5" y2="350.5" stroke="#c8402e" stroke-width="1.9"/>
<line x1="422.9" y1="383.0" x2="483.0" y2="350.5" stroke="#c8402e" stroke-width="1.9"/>
<line x1="465.9" y1="383.0" x2="526.0" y2="350.5" stroke="#c8402e" stroke-width="1.9"/>
<line x1="503.9" y1="383.0" x2="564.0" y2="350.5" stroke="#c8402e" stroke-width="1.9"/>
<ellipse cx="394.5" cy="342.4" rx="3.2" ry="1.9" fill="url(#yel)" stroke="#6a7818" stroke-width="0.5"/>
<ellipse cx="380.6" cy="349.9" rx="3.2" ry="1.9" fill="url(#yel)" stroke="#6a7818" stroke-width="0.5"/>
<ellipse cx="366.8" cy="357.4" rx="3.2" ry="1.9" fill="url(#yel)" stroke="#6a7818" stroke-width="0.5"/>
<ellipse cx="355.6" cy="363.4" rx="3.2" ry="1.9" fill="url(#yel)" stroke="#6a7818" stroke-width="0.5"/>
<ellipse cx="342.0" cy="370.8" rx="3.2" ry="1.9" fill="url(#yel)" stroke="#6a7818" stroke-width="0.5"/>
<ellipse cx="437.5" cy="342.4" rx="3.2" ry="1.9" fill="url(#yel)" stroke="#6a7818" stroke-width="0.5"/>
<ellipse cx="423.6" cy="349.9" rx="3.2" ry="1.9" fill="url(#yel)" stroke="#6a7818" stroke-width="0.5"/>
<ellipse cx="409.8" cy="357.4" rx="3.2" ry="1.9" fill="url(#yel)" stroke="#6a7818" stroke-width="0.5"/>
<ellipse cx="398.6" cy="363.4" rx="3.2" ry="1.9" fill="url(#yel)" stroke="#6a7818" stroke-width="0.5"/>
<ellipse cx="385.0" cy="370.8" rx="3.2" ry="1.9" fill="url(#yel)" stroke="#6a7818" stroke-width="0.5"/>
<ellipse cx="480.0" cy="342.4" rx="3.2" ry="1.9" fill="url(#yel)" stroke="#6a7818" stroke-width="0.5"/>
<ellipse cx="466.1" cy="349.9" rx="3.2" ry="1.9" fill="url(#yel)" stroke="#6a7818" stroke-width="0.5"/>
<ellipse cx="452.2" cy="357.4" rx="3.2" ry="1.9" fill="url(#yel)" stroke="#6a7818" stroke-width="0.5"/>
<ellipse cx="441.1" cy="363.4" rx="3.2" ry="1.9" fill="url(#yel)" stroke="#6a7818" stroke-width="0.5"/>
<ellipse cx="427.5" cy="370.8" rx="3.2" ry="1.9" fill="url(#yel)" stroke="#6a7818" stroke-width="0.5"/>
<ellipse cx="523.0" cy="342.4" rx="3.2" ry="1.9" fill="url(#yel)" stroke="#6a7818" stroke-width="0.5"/>
<ellipse cx="509.1" cy="349.9" rx="3.2" ry="1.9" fill="url(#yel)" stroke="#6a7818" stroke-width="0.5"/>
<ellipse cx="495.2" cy="357.4" rx="3.2" ry="1.9" fill="url(#yel)" stroke="#6a7818" stroke-width="0.5"/>
<ellipse cx="484.1" cy="363.4" rx="3.2" ry="1.9" fill="url(#yel)" stroke="#6a7818" stroke-width="0.5"/>
<ellipse cx="470.5" cy="370.8" rx="3.2" ry="1.9" fill="url(#yel)" stroke="#6a7818" stroke-width="0.5"/>
<ellipse cx="561.0" cy="342.4" rx="3.2" ry="1.9" fill="url(#yel)" stroke="#6a7818" stroke-width="0.5"/>
<ellipse cx="547.1" cy="349.9" rx="3.2" ry="1.9" fill="url(#yel)" stroke="#6a7818" stroke-width="0.5"/>
<ellipse cx="533.2" cy="357.4" rx="3.2" ry="1.9" fill="url(#yel)" stroke="#6a7818" stroke-width="0.5"/>
<ellipse cx="522.1" cy="363.4" rx="3.2" ry="1.9" fill="url(#yel)" stroke="#6a7818" stroke-width="0.5"/>
<ellipse cx="508.5" cy="370.8" rx="3.2" ry="1.9" fill="url(#yel)" stroke="#6a7818" stroke-width="0.5"/>
<ellipse cx="394.5" cy="353.3" rx="3.2" ry="1.9" fill="url(#yel)" stroke="#6a7818" stroke-width="0.5"/>
<ellipse cx="380.4" cy="360.9" rx="3.2" ry="1.9" fill="url(#yel)" stroke="#6a7818" stroke-width="0.5"/>
<ellipse cx="367.5" cy="367.9" rx="3.2" ry="1.9" fill="url(#yel)" stroke="#6a7818" stroke-width="0.5"/>
<ellipse cx="354.5" cy="374.9" rx="3.2" ry="1.9" fill="url(#yel)" stroke="#6a7818" stroke-width="0.5"/>
<ellipse cx="341.4" cy="382.0" rx="3.2" ry="1.9" fill="url(#yel)" stroke="#6a7818" stroke-width="0.5"/>
<ellipse cx="437.5" cy="353.3" rx="3.2" ry="1.9" fill="url(#yel)" stroke="#6a7818" stroke-width="0.5"/>
<ellipse cx="423.4" cy="360.9" rx="3.2" ry="1.9" fill="url(#yel)" stroke="#6a7818" stroke-width="0.5"/>
<ellipse cx="410.5" cy="367.9" rx="3.2" ry="1.9" fill="url(#yel)" stroke="#6a7818" stroke-width="0.5"/>
<ellipse cx="397.5" cy="374.9" rx="3.2" ry="1.9" fill="url(#yel)" stroke="#6a7818" stroke-width="0.5"/>
<ellipse cx="384.4" cy="382.0" rx="3.2" ry="1.9" fill="url(#yel)" stroke="#6a7818" stroke-width="0.5"/>
<ellipse cx="480.0" cy="353.3" rx="3.2" ry="1.9" fill="url(#yel)" stroke="#6a7818" stroke-width="0.5"/>
<ellipse cx="465.9" cy="360.9" rx="3.2" ry="1.9" fill="url(#yel)" stroke="#6a7818" stroke-width="0.5"/>
<ellipse cx="453.0" cy="367.9" rx="3.2" ry="1.9" fill="url(#yel)" stroke="#6a7818" stroke-width="0.5"/>
<ellipse cx="440.0" cy="374.9" rx="3.2" ry="1.9" fill="url(#yel)" stroke="#6a7818" stroke-width="0.5"/>
<ellipse cx="426.9" cy="382.0" rx="3.2" ry="1.9" fill="url(#yel)" stroke="#6a7818" stroke-width="0.5"/>
<ellipse cx="523.0" cy="353.3" rx="3.2" ry="1.9" fill="url(#yel)" stroke="#6a7818" stroke-width="0.5"/>
<ellipse cx="508.9" cy="360.9" rx="3.2" ry="1.9" fill="url(#yel)" stroke="#6a7818" stroke-width="0.5"/>
<ellipse cx="496.0" cy="367.9" rx="3.2" ry="1.9" fill="url(#yel)" stroke="#6a7818" stroke-width="0.5"/>
<ellipse cx="483.0" cy="374.9" rx="3.2" ry="1.9" fill="url(#yel)" stroke="#6a7818" stroke-width="0.5"/>
<ellipse cx="469.9" cy="382.0" rx="3.2" ry="1.9" fill="url(#yel)" stroke="#6a7818" stroke-width="0.5"/>
<ellipse cx="561.0" cy="353.3" rx="3.2" ry="1.9" fill="url(#yel)" stroke="#6a7818" stroke-width="0.5"/>
<ellipse cx="546.9" cy="360.9" rx="3.2" ry="1.9" fill="url(#yel)" stroke="#6a7818" stroke-width="0.5"/>
<ellipse cx="534.0" cy="367.9" rx="3.2" ry="1.9" fill="url(#yel)" stroke="#6a7818" stroke-width="0.5"/>
<ellipse cx="521.0" cy="374.9" rx="3.2" ry="1.9" fill="url(#yel)" stroke="#6a7818" stroke-width="0.5"/>
<ellipse cx="507.9" cy="382.0" rx="3.2" ry="1.9" fill="url(#yel)" stroke="#6a7818" stroke-width="0.5"/>
<path d="M321.5,369.8 Q317.3,369.8 317.3,372.8 L317.3,378.4 Q317.3,380.9 312,380.9 Q317.3,380.9 317.3,383.4 L317.3,389.0 Q317.3,392.0 321.5,392.0" fill="none" stroke="#a8a8a0" stroke-width="1"/>
<line x1="376.5" y1="396.9" x2="580" y2="396.9" stroke="#4670c0" stroke-width="2.1"/>
<line x1="367" y1="404.4" x2="570" y2="404.4" stroke="#4670c0" stroke-width="2.1"/>
<line x1="351" y1="411.9" x2="570" y2="411.9" stroke="#4670c0" stroke-width="2.1"/>
<line x1="334.6" y1="417.9" x2="554" y2="417.9" stroke="#4670c0" stroke-width="2.1"/>
<line x1="322" y1="425.3" x2="538" y2="425.3" stroke="#4670c0" stroke-width="2.1"/>
<line x1="377" y1="407.8" x2="580" y2="407.8" stroke="#4670c0" stroke-width="2.1"/>
<line x1="367" y1="415.4" x2="570" y2="415.4" stroke="#4670c0" stroke-width="2.1"/>
<line x1="351" y1="422.4" x2="554" y2="422.4" stroke="#4670c0" stroke-width="2.1"/>
<line x1="334.6" y1="429.4" x2="538" y2="429.4" stroke="#4670c0" stroke-width="2.1"/>
<line x1="322" y1="436.5" x2="526" y2="436.5" stroke="#4670c0" stroke-width="2.1"/>
<line x1="338.0" y1="426.9" x2="397.5" y2="394.7" stroke="#c8402e" stroke-width="1.9"/>
<line x1="381.0" y1="426.9" x2="440.5" y2="394.7" stroke="#c8402e" stroke-width="1.9"/>
<line x1="423.5" y1="426.9" x2="483.0" y2="394.7" stroke="#c8402e" stroke-width="1.9"/>
<line x1="466.5" y1="426.9" x2="526.0" y2="394.7" stroke="#c8402e" stroke-width="1.9"/>
<line x1="504.5" y1="426.9" x2="564.0" y2="394.7" stroke="#c8402e" stroke-width="1.9"/>
<line x1="337.4" y1="438.1" x2="397.5" y2="405.6" stroke="#c8402e" stroke-width="1.9"/>
<line x1="380.4" y1="438.1" x2="440.5" y2="405.6" stroke="#c8402e" stroke-width="1.9"/>
<line x1="422.9" y1="438.1" x2="483.0" y2="405.6" stroke="#c8402e" stroke-width="1.9"/>
<line x1="465.9" y1="438.1" x2="526.0" y2="405.6" stroke="#c8402e" stroke-width="1.9"/>
<line x1="503.9" y1="438.1" x2="564.0" y2="405.6" stroke="#c8402e" stroke-width="1.9"/>
<ellipse cx="394.5" cy="397.5" rx="3.2" ry="1.9" fill="url(#yel)" stroke="#6a7818" stroke-width="0.5"/>
<ellipse cx="380.6" cy="405.0" rx="3.2" ry="1.9" fill="url(#yel)" stroke="#6a7818" stroke-width="0.5"/>
<ellipse cx="366.8" cy="412.5" rx="3.2" ry="1.9" fill="url(#yel)" stroke="#6a7818" stroke-width="0.5"/>
<ellipse cx="355.6" cy="418.5" rx="3.2" ry="1.9" fill="url(#yel)" stroke="#6a7818" stroke-width="0.5"/>
<ellipse cx="342.0" cy="425.9" rx="3.2" ry="1.9" fill="url(#yel)" stroke="#6a7818" stroke-width="0.5"/>
<ellipse cx="437.5" cy="397.5" rx="3.2" ry="1.9" fill="url(#yel)" stroke="#6a7818" stroke-width="0.5"/>
<ellipse cx="423.6" cy="405.0" rx="3.2" ry="1.9" fill="url(#yel)" stroke="#6a7818" stroke-width="0.5"/>
<ellipse cx="409.8" cy="412.5" rx="3.2" ry="1.9" fill="url(#yel)" stroke="#6a7818" stroke-width="0.5"/>
<ellipse cx="398.6" cy="418.5" rx="3.2" ry="1.9" fill="url(#yel)" stroke="#6a7818" stroke-width="0.5"/>
<ellipse cx="385.0" cy="425.9" rx="3.2" ry="1.9" fill="url(#yel)" stroke="#6a7818" stroke-width="0.5"/>
<ellipse cx="480.0" cy="397.5" rx="3.2" ry="1.9" fill="url(#yel)" stroke="#6a7818" stroke-width="0.5"/>
<ellipse cx="466.1" cy="405.0" rx="3.2" ry="1.9" fill="url(#yel)" stroke="#6a7818" stroke-width="0.5"/>
<ellipse cx="452.2" cy="412.5" rx="3.2" ry="1.9" fill="url(#yel)" stroke="#6a7818" stroke-width="0.5"/>
<ellipse cx="441.1" cy="418.5" rx="3.2" ry="1.9" fill="url(#yel)" stroke="#6a7818" stroke-width="0.5"/>
<ellipse cx="427.5" cy="425.9" rx="3.2" ry="1.9" fill="url(#yel)" stroke="#6a7818" stroke-width="0.5"/>
<ellipse cx="523.0" cy="397.5" rx="3.2" ry="1.9" fill="url(#yel)" stroke="#6a7818" stroke-width="0.5"/>
<ellipse cx="509.1" cy="405.0" rx="3.2" ry="1.9" fill="url(#yel)" stroke="#6a7818" stroke-width="0.5"/>
<ellipse cx="495.2" cy="412.5" rx="3.2" ry="1.9" fill="url(#yel)" stroke="#6a7818" stroke-width="0.5"/>
<ellipse cx="484.1" cy="418.5" rx="3.2" ry="1.9" fill="url(#yel)" stroke="#6a7818" stroke-width="0.5"/>
<ellipse cx="470.5" cy="425.9" rx="3.2" ry="1.9" fill="url(#yel)" stroke="#6a7818" stroke-width="0.5"/>
<ellipse cx="561.0" cy="397.5" rx="3.2" ry="1.9" fill="url(#yel)" stroke="#6a7818" stroke-width="0.5"/>
<ellipse cx="547.1" cy="405.0" rx="3.2" ry="1.9" fill="url(#yel)" stroke="#6a7818" stroke-width="0.5"/>
<ellipse cx="533.2" cy="412.5" rx="3.2" ry="1.9" fill="url(#yel)" stroke="#6a7818" stroke-width="0.5"/>
<ellipse cx="522.1" cy="418.5" rx="3.2" ry="1.9" fill="url(#yel)" stroke="#6a7818" stroke-width="0.5"/>
<ellipse cx="508.5" cy="425.9" rx="3.2" ry="1.9" fill="url(#yel)" stroke="#6a7818" stroke-width="0.5"/>
<ellipse cx="394.5" cy="408.4" rx="3.2" ry="1.9" fill="url(#yel)" stroke="#6a7818" stroke-width="0.5"/>
<ellipse cx="380.4" cy="416.0" rx="3.2" ry="1.9" fill="url(#yel)" stroke="#6a7818" stroke-width="0.5"/>
<ellipse cx="367.5" cy="423.0" rx="3.2" ry="1.9" fill="url(#yel)" stroke="#6a7818" stroke-width="0.5"/>
<ellipse cx="354.5" cy="430.0" rx="3.2" ry="1.9" fill="url(#yel)" stroke="#6a7818" stroke-width="0.5"/>
<ellipse cx="341.4" cy="437.1" rx="3.2" ry="1.9" fill="url(#yel)" stroke="#6a7818" stroke-width="0.5"/>
<ellipse cx="437.5" cy="408.4" rx="3.2" ry="1.9" fill="url(#yel)" stroke="#6a7818" stroke-width="0.5"/>
<ellipse cx="423.4" cy="416.0" rx="3.2" ry="1.9" fill="url(#yel)" stroke="#6a7818" stroke-width="0.5"/>
<ellipse cx="410.5" cy="423.0" rx="3.2" ry="1.9" fill="url(#yel)" stroke="#6a7818" stroke-width="0.5"/>
<ellipse cx="397.5" cy="430.0" rx="3.2" ry="1.9" fill="url(#yel)" stroke="#6a7818" stroke-width="0.5"/>
<ellipse cx="384.4" cy="437.1" rx="3.2" ry="1.9" fill="url(#yel)" stroke="#6a7818" stroke-width="0.5"/>
<ellipse cx="480.0" cy="408.4" rx="3.2" ry="1.9" fill="url(#yel)" stroke="#6a7818" stroke-width="0.5"/>
<ellipse cx="465.9" cy="416.0" rx="3.2" ry="1.9" fill="url(#yel)" stroke="#6a7818" stroke-width="0.5"/>
<ellipse cx="453.0" cy="423.0" rx="3.2" ry="1.9" fill="url(#yel)" stroke="#6a7818" stroke-width="0.5"/>
<ellipse cx="440.0" cy="430.0" rx="3.2" ry="1.9" fill="url(#yel)" stroke="#6a7818" stroke-width="0.5"/>
<ellipse cx="426.9" cy="437.1" rx="3.2" ry="1.9" fill="url(#yel)" stroke="#6a7818" stroke-width="0.5"/>
<ellipse cx="523.0" cy="408.4" rx="3.2" ry="1.9" fill="url(#yel)" stroke="#6a7818" stroke-width="0.5"/>
<ellipse cx="508.9" cy="416.0" rx="3.2" ry="1.9" fill="url(#yel)" stroke="#6a7818" stroke-width="0.5"/>
<ellipse cx="496.0" cy="423.0" rx="3.2" ry="1.9" fill="url(#yel)" stroke="#6a7818" stroke-width="0.5"/>
<ellipse cx="483.0" cy="430.0" rx="3.2" ry="1.9" fill="url(#yel)" stroke="#6a7818" stroke-width="0.5"/>
<ellipse cx="469.9" cy="437.1" rx="3.2" ry="1.9" fill="url(#yel)" stroke="#6a7818" stroke-width="0.5"/>
<ellipse cx="561.0" cy="408.4" rx="3.2" ry="1.9" fill="url(#yel)" stroke="#6a7818" stroke-width="0.5"/>
<ellipse cx="546.9" cy="416.0" rx="3.2" ry="1.9" fill="url(#yel)" stroke="#6a7818" stroke-width="0.5"/>
<ellipse cx="534.0" cy="423.0" rx="3.2" ry="1.9" fill="url(#yel)" stroke="#6a7818" stroke-width="0.5"/>
<ellipse cx="521.0" cy="430.0" rx="3.2" ry="1.9" fill="url(#yel)" stroke="#6a7818" stroke-width="0.5"/>
<ellipse cx="507.9" cy="437.1" rx="3.2" ry="1.9" fill="url(#yel)" stroke="#6a7818" stroke-width="0.5"/>
<path d="M321.5,424.2 Q317.3,424.2 317.3,427.2 L317.3,432.8 Q317.3,435.3 312,435.3 Q317.3,435.3 317.3,437.8 L317.3,443.4 Q317.3,446.4 321.5,446.4" fill="none" stroke="#a8a8a0" stroke-width="1"/>
<circle cx="428.7" cy="251.8" r="4.5" fill="url(#rb)"/>
<circle cx="468.7" cy="263.6" r="5" fill="url(#rb)"/>
<circle cx="478.2" cy="274.2" r="5" fill="url(#bb)"/>
<circle cx="405" cy="279.8" r="5.2" fill="url(#bb)"/>
<circle cx="423.5" cy="299" r="3.5" fill="url(#bb)"/>
<circle cx="512.7" cy="301.4" r="4.5" fill="url(#rb)"/>
<circle cx="444.2" cy="322.9" r="5" fill="url(#bb)"/>
<circle cx="400.2" cy="335" r="5.2" fill="url(#bb)"/>
<circle cx="434.3" cy="345.3" r="5.2" fill="url(#rb)"/>
<circle cx="493.3" cy="340.5" r="5.2" fill="url(#bb)"/>
<circle cx="434.3" cy="384" r="5" fill="url(#bb)"/>
<circle cx="376.1" cy="401.3" r="5.4" fill="url(#rb)"/>
<circle cx="508.3" cy="401.3" r="5.2" fill="url(#bb)"/>
<circle cx="424.6" cy="191.8" r="4.8" fill="url(#rb)"/>
<circle cx="493.3" cy="192" r="4.8" fill="url(#bb)"/>
<path d="M424,198.6 Q426.6,206 427.6,215.5 L427.3,222.8 L422.2,221.2 L430.3,235.6 L438.1,216 L433.9,223.6 Q432.8,209 425.2,198.4 Z" fill="url(#rbw1)"/>
<path d="M493.6,198.6 Q491,206 490.2,215.5 L490.4,222.8 L496.5,217.5 L488.1,235.2 L479.8,219.8 L484.2,223.6 Q485.2,209 492.4,198.4 Z" fill="url(#rbw2)"/>
</svg>
<div class="a sb" style="left:384px;top:179.5px;font-size:17.5px;color:#111;">Eu<span style="font-size:11px;vertical-align:7px;">3+</span></div>
<div class="a sb" style="left:500.8px;top:180.5px;font-size:17.5px;color:#111;">Tb<span style="font-size:11px;vertical-align:7px;">3+</span></div>
<div class="a" style="left:0;top:0;width:960px;height:720px;background:radial-gradient(circle at 776px 329px, rgba(255,255,255,1) 0px, rgba(255,255,255,0.8) 8px, rgba(255,255,255,0.4) 24px, rgba(255,255,255,0.12) 48px, rgba(255,255,255,0) 75px),conic-gradient(from 0deg at 776px 329px, #60ff00 0deg, #a8ff00 16deg, #e8ff00 29deg, #ffff00 36deg, #ffc400 45deg, #ff8c00 59deg, #ff5000 76deg, #ff1000 92deg, #ff0030 110deg, #ff0080 135deg, #ff00d0 158deg, #f000ff 170deg, #a800ff 184deg, #5800ff 196deg, #2000ff 210deg, #0808ff 224deg, #0040ff 236deg, #0090ff 250deg, #00e0ff 262deg, #00fff0 270deg, #00ffa8 281deg, #00ff60 294deg, #00ff28 312deg, #00ff00 328deg, #20ff00 348deg, #60ff00 360deg);clip-path:polygon(711.7px 425.9px,711.7px 425.9px,711.6px 426.0px,711.5px 426.0px,711.4px 426.0px,711.4px 426.0px,711.3px 426.0px,711.3px 426.0px,711.2px 426.0px,711.1px 426.0px,711.0px 426.0px,710.9px 425.9px,710.8px 425.9px,710.7px 425.9px,710.6px 425.8px,710.5px 425.7px,710.4px 425.7px,710.3px 425.6px,710.1px 425.5px,710.0px 425.4px,709.9px 425.3px,709.7px 425.2px,709.5px 425.1px,709.3px 424.9px,709.2px 424.8px,708.9px 424.6px,708.7px 424.5px,708.5px 424.3px,708.3px 424.1px,708.0px 423.9px,707.7px 423.6px,707.4px 423.4px,707.1px 423.2px,706.7px 422.9px,706.3px 422.6px,705.9px 422.3px,705.5px 421.9px,705.0px 421.6px,704.5px 421.2px,704.0px 420.8px,703.5px 420.3px,702.9px 419.9px,702.3px 419.3px,701.6px 418.8px,701.0px 418.1px,700.3px 417.5px,699.5px 416.8px,698.8px 415.9px,697.9px 414.9px,697.0px 413.8px,696.0px 412.5px,695.0px 411.0px,693.8px 409.3px,692.6px 407.4px,691.4px 405.3px,690.1px 402.9px,688.6px 400.2px,687.1px 397.1px,685.5px 393.7px,683.9px 389.9px,682.1px 385.7px,680.2px 381.0px,678.2px 375.9px,676.1px 370.4px,674.0px 364.3px,671.9px 357.6px,669.8px 350.4px,667.7px 342.7px,665.7px 334.6px,663.6px 325.9px,661.6px 316.7px,659.6px 307.1px,657.8px 297.5px,656.2px 287.7px,654.7px 277.7px,653.4px 267.7px,652.3px 257.9px,651.6px 248.4px,651.0px 239.0px,650.7px 229.9px,650.8px 221.2px,651.2px 213.0px,651.9px 205.1px,653.0px 197.8px,654.4px 191.2px,656.1px 185.3px,658.3px 180.0px,660.7px 175.5px,663.3px 171.7px,666.2px 168.9px,669.3px 166.9px,672.6px 165.6px,676.0px 164.9px,679.5px 164.7px,683.0px 165.2px,686.7px 166.2px,690.3px 167.2px,693.9px 168.5px,697.6px 170.1px,701.2px 171.9px,704.8px 173.6px,708.3px 175.4px,711.7px 177.3px,715.1px 179.3px,718.5px 181.3px,721.8px 183.4px,725.1px 185.5px,728.3px 187.7px,731.6px 189.9px,734.9px 192.2px,738.1px 194.5px,741.3px 196.9px,744.6px 199.3px,747.8px 201.8px,751.0px 204.3px,754.2px 206.9px,757.4px 209.4px,760.6px 212.0px,763.8px 214.6px,767.0px 217.3px,770.2px 219.9px,773.4px 222.6px,776.6px 225.3px,779.8px 228.1px,783.0px 230.8px,786.2px 233.5px,789.4px 236.3px,792.5px 239.0px,795.7px 241.8px,798.9px 244.5px,802.1px 247.3px,805.2px 250.0px,808.4px 252.8px,811.5px 255.5px,814.6px 258.2px,817.7px 260.9px,820.8px 263.6px,823.9px 266.3px,826.9px 269.0px,829.9px 271.6px,832.9px 274.2px,835.8px 276.8px,838.7px 279.4px,841.6px 281.9px,844.4px 284.4px,847.2px 286.8px,850.0px 289.2px,852.7px 291.6px,855.3px 293.9px,857.9px 296.1px,860.4px 298.4px,862.9px 300.5px,865.2px 302.6px,867.5px 304.6px,869.7px 306.5px,871.8px 308.4px,873.9px 310.2px,875.9px 311.9px,877.8px 313.6px,879.7px 315.3px,881.5px 316.8px,883.1px 318.3px,884.8px 319.7px,886.3px 321.0px,887.8px 322.3px,889.1px 323.5px,890.5px 324.7px,891.7px 325.8px,892.9px 326.8px,894.0px 327.8px,895.0px 328.7px,896.0px 329.6px,897.0px 330.4px,897.8px 331.2px,898.7px 331.9px,899.5px 332.6px,900.2px 333.2px,900.9px 333.8px,901.5px 334.3px,902.1px 334.9px,902.8px 335.5px,903.8px 336.3px,904.8px 337.3px,905.9px 338.2px,906.8px 339.0px,907.6px 339.7px,908.2px 340.2px,908.8px 340.7px,909.3px 341.2px,909.7px 341.6px,910.1px 341.9px,910.4px 342.2px,910.7px 342.4px,911.1px 342.7px,911.4px 343.0px,911.7px 343.3px,912.0px 343.5px,912.1px 343.7px,912.3px 343.8px,912.4px 343.9px,912.4px 343.9px);"></div>
<svg width="960" height="720">
<line x1="629" y1="141.4" x2="936" y2="141.4" stroke="#9a9a9a" stroke-width="1"/>
<line x1="649.7" y1="164" x2="649.7" y2="428" stroke="#aaa" stroke-width="1.1"/>
<line x1="649.2" y1="427.9" x2="914" y2="427.9" stroke="#aaa" stroke-width="1.1"/>
<line x1="649.7" y1="427.5" x2="652.5" y2="427.5" stroke="#aaa" stroke-width="1"/>
<line x1="649.7" y1="396.0" x2="652.5" y2="396.0" stroke="#aaa" stroke-width="1"/>
<line x1="649.7" y1="364.5" x2="652.5" y2="364.5" stroke="#aaa" stroke-width="1"/>
<line x1="649.7" y1="333.0" x2="652.5" y2="333.0" stroke="#aaa" stroke-width="1"/>
<line x1="649.7" y1="301.5" x2="652.5" y2="301.5" stroke="#aaa" stroke-width="1"/>
<line x1="649.7" y1="270.0" x2="652.5" y2="270.0" stroke="#aaa" stroke-width="1"/>
<line x1="649.7" y1="238.5" x2="652.5" y2="238.5" stroke="#aaa" stroke-width="1"/>
<line x1="649.7" y1="207.0" x2="652.5" y2="207.0" stroke="#aaa" stroke-width="1"/>
<line x1="649.7" y1="175.5" x2="652.5" y2="175.5" stroke="#aaa" stroke-width="1"/>
<line x1="649.4" y1="427.9" x2="649.4" y2="425" stroke="#aaa" stroke-width="1"/>
<line x1="685.2" y1="427.9" x2="685.2" y2="425" stroke="#aaa" stroke-width="1"/>
<line x1="721.0" y1="427.9" x2="721.0" y2="425" stroke="#aaa" stroke-width="1"/>
<line x1="756.8" y1="427.9" x2="756.8" y2="425" stroke="#aaa" stroke-width="1"/>
<line x1="792.6" y1="427.9" x2="792.6" y2="425" stroke="#aaa" stroke-width="1"/>
<line x1="828.4" y1="427.9" x2="828.4" y2="425" stroke="#aaa" stroke-width="1"/>
<line x1="864.2" y1="427.9" x2="864.2" y2="425" stroke="#aaa" stroke-width="1"/>
<line x1="900.0" y1="427.9" x2="900.0" y2="425" stroke="#aaa" stroke-width="1"/>
<line x1="701.0" y1="418.1" x2="696.8" y2="422.4" stroke="#999" stroke-width="0.9"/>
<line x1="697.9" y1="414.9" x2="695.6" y2="416.8" stroke="#999" stroke-width="0.9"/>
<line x1="693.8" y1="409.3" x2="688.7" y2="412.5" stroke="#999" stroke-width="0.9"/>
<line x1="688.6" y1="400.2" x2="686.0" y2="401.5" stroke="#999" stroke-width="0.9"/>
<line x1="682.1" y1="385.7" x2="676.5" y2="388.0" stroke="#999" stroke-width="0.9"/>
<line x1="674.0" y1="364.3" x2="671.1" y2="365.2" stroke="#999" stroke-width="0.9"/>
<line x1="665.7" y1="334.6" x2="659.8" y2="336.0" stroke="#999" stroke-width="0.9"/>
<line x1="657.8" y1="297.5" x2="654.9" y2="298.0" stroke="#999" stroke-width="0.9"/>
<line x1="652.3" y1="257.9" x2="646.4" y2="258.5" stroke="#999" stroke-width="0.9"/>
<line x1="650.8" y1="221.2" x2="647.8" y2="221.1" stroke="#999" stroke-width="0.9"/>
<line x1="654.4" y1="191.2" x2="648.6" y2="189.7" stroke="#999" stroke-width="0.9"/>
<line x1="663.3" y1="171.7" x2="661.0" y2="169.8" stroke="#999" stroke-width="0.9"/>
<line x1="676.0" y1="164.9" x2="675.0" y2="158.9" stroke="#999" stroke-width="0.9"/>
<line x1="690.3" y1="167.2" x2="691.2" y2="164.4" stroke="#999" stroke-width="0.9"/>
<line x1="704.8" y1="173.6" x2="707.5" y2="168.3" stroke="#999" stroke-width="0.9"/>
<line x1="718.5" y1="181.3" x2="720.0" y2="178.7" stroke="#999" stroke-width="0.9"/>
<line x1="731.6" y1="189.9" x2="735.0" y2="185.0" stroke="#999" stroke-width="0.9"/>
<line x1="744.6" y1="199.3" x2="746.4" y2="197.0" stroke="#999" stroke-width="0.9"/>
<line x1="757.4" y1="209.4" x2="761.1" y2="204.8" stroke="#999" stroke-width="0.9"/>
<line x1="770.2" y1="219.9" x2="772.1" y2="217.6" stroke="#999" stroke-width="0.9"/>
<line x1="783.0" y1="230.8" x2="786.9" y2="226.2" stroke="#999" stroke-width="0.9"/>
<line x1="795.7" y1="241.8" x2="797.7" y2="239.5" stroke="#999" stroke-width="0.9"/>
<line x1="808.4" y1="252.8" x2="812.3" y2="248.2" stroke="#999" stroke-width="0.9"/>
<line x1="820.8" y1="263.6" x2="822.8" y2="261.4" stroke="#999" stroke-width="0.9"/>
<line x1="832.9" y1="274.2" x2="836.8" y2="269.7" stroke="#999" stroke-width="0.9"/>
<line x1="844.4" y1="284.4" x2="846.4" y2="282.1" stroke="#999" stroke-width="0.9"/>
<line x1="855.3" y1="293.9" x2="859.3" y2="289.4" stroke="#999" stroke-width="0.9"/>
<line x1="865.2" y1="302.6" x2="867.2" y2="300.3" stroke="#999" stroke-width="0.9"/>
<line x1="873.9" y1="310.2" x2="877.8" y2="305.6" stroke="#999" stroke-width="0.9"/>
<line x1="881.5" y1="316.8" x2="883.4" y2="314.5" stroke="#999" stroke-width="0.9"/>
<line x1="887.8" y1="322.3" x2="891.7" y2="317.8" stroke="#999" stroke-width="0.9"/>
<line x1="892.9" y1="326.8" x2="894.9" y2="324.5" stroke="#999" stroke-width="0.9"/>
<line x1="897.0" y1="330.4" x2="900.9" y2="325.9" stroke="#999" stroke-width="0.9"/>
<line x1="912.0" y1="343.5" x2="915.9" y2="339.0" stroke="#999" stroke-width="0.9"/>
</svg>
<div class="a" style="left:660.0px;top:149.0px;width:30px;text-align:center;font-size:9.4px;color:#d4d4d4;transform:scaleX(0.88);">520</div>
<div class="a" style="left:699.6px;top:158.8px;width:30px;text-align:center;font-size:9.4px;color:#d4d4d4;transform:scaleX(0.88);">530</div>
<div class="a" style="left:726.7px;top:175.0px;width:30px;text-align:center;font-size:9.4px;color:#d4d4d4;transform:scaleX(0.88);">540</div>
<div class="a" style="left:752.9px;top:194.8px;width:30px;text-align:center;font-size:9.4px;color:#d4d4d4;transform:scaleX(0.88);">550</div>
<div class="a" style="left:778.3px;top:216.3px;width:30px;text-align:center;font-size:9.4px;color:#d4d4d4;transform:scaleX(0.88);">560</div>
<div class="a" style="left:804.0px;top:238.7px;width:30px;text-align:center;font-size:9.4px;color:#d4d4d4;transform:scaleX(0.88);">570</div>
<div class="a" style="left:828.7px;top:260.3px;width:30px;text-align:center;font-size:9.4px;color:#d4d4d4;transform:scaleX(0.88);">580</div>
<div class="a" style="left:851.1px;top:279.7px;width:30px;text-align:center;font-size:9.4px;color:#d4d4d4;transform:scaleX(0.88);">590</div>
<div class="a" style="left:869.6px;top:296.2px;width:30px;text-align:center;font-size:9.4px;color:#d4d4d4;transform:scaleX(0.88);">600</div>
<div class="a" style="left:883.8px;top:308.7px;width:30px;text-align:center;font-size:9.4px;color:#d4d4d4;transform:scaleX(0.88);">610</div>
<div class="a" style="left:892.5px;top:316.4px;width:30px;text-align:center;font-size:9.4px;color:#d4d4d4;transform:scaleX(0.88);">620</div>
<div class="a" style="left:907.5px;top:329.3px;width:30px;text-align:center;font-size:9.4px;color:#d4d4d4;transform:scaleX(0.88);">680</div>
<div class="a" style="left:626.7px;top:185.1px;width:30px;text-align:center;font-size:9.4px;color:#d4d4d4;transform:scaleX(0.88);">510</div>
<div class="a" style="left:624.4px;top:253.3px;width:30px;text-align:center;font-size:9.4px;color:#d4d4d4;transform:scaleX(0.88);">500</div>
<div class="a" style="left:638.0px;top:330.7px;width:30px;text-align:center;font-size:9.4px;color:#d4d4d4;transform:scaleX(0.88);">490</div>
<div class="a" style="left:654.3px;top:382.7px;width:30px;text-align:center;font-size:9.4px;color:#d4d4d4;transform:scaleX(0.88);">480</div>
<div class="a" style="left:666.9px;top:412.0px;width:30px;text-align:center;font-size:9.4px;color:#d4d4d4;transform:scaleX(0.88);">470</div>
<div class="a" style="left:674.9px;top:421.4px;width:30px;text-align:center;font-size:9.4px;color:#d4d4d4;transform:scaleX(0.88);">460</div>
<div class="a" style="left:686.5px;top:431.0px;width:30px;text-align:center;font-size:9.4px;color:#d4d4d4;transform:scaleX(0.88);">420</div>
<div class="a" style="left:622.5px;top:421.2px;width:36px;text-align:center;font-size:9.8px;color:#eee;">0.0</div>
<div class="a" style="left:622.5px;top:390.0px;width:36px;text-align:center;font-size:9.8px;color:#eee;">0.1</div>
<div class="a" style="left:622.5px;top:358.8px;width:36px;text-align:center;font-size:9.8px;color:#eee;">0.2</div>
<div class="a" style="left:622.5px;top:327.6px;width:36px;text-align:center;font-size:9.8px;color:#eee;">0.3</div>
<div class="a" style="left:622.5px;top:296.4px;width:36px;text-align:center;font-size:9.8px;color:#eee;">0.4</div>
<div class="a" style="left:622.5px;top:265.2px;width:36px;text-align:center;font-size:9.8px;color:#eee;">0.5</div>
<div class="a" style="left:622.5px;top:234.0px;width:36px;text-align:center;font-size:9.8px;color:#eee;">0.6</div>
<div class="a" style="left:622.5px;top:202.8px;width:36px;text-align:center;font-size:9.8px;color:#eee;">0.7</div>
<div class="a" style="left:622.5px;top:171.6px;width:36px;text-align:center;font-size:9.8px;color:#eee;">0.8</div>
<div class="a" style="left:631.4px;top:430.3px;width:36px;text-align:center;font-size:10px;color:#eee;">0.0</div>
<div class="a" style="left:667.2px;top:430.3px;width:36px;text-align:center;font-size:10px;color:#eee;">0.1</div>
<div class="a" style="left:703.0px;top:430.3px;width:36px;text-align:center;font-size:10px;color:#eee;">0.2</div>
<div class="a" style="left:738.8px;top:430.3px;width:36px;text-align:center;font-size:10px;color:#eee;">0.3</div>
<div class="a" style="left:774.6px;top:430.3px;width:36px;text-align:center;font-size:10px;color:#eee;">0.4</div>
<div class="a" style="left:810.4px;top:430.3px;width:36px;text-align:center;font-size:10px;color:#eee;">0.5</div>
<div class="a" style="left:846.2px;top:430.3px;width:36px;text-align:center;font-size:10px;color:#eee;">0.6</div>
<div class="a" style="left:882.0px;top:430.3px;width:36px;text-align:center;font-size:10px;color:#eee;">0.7</div>
<div class="a" style="left:646px;top:143.5px;font-size:17px;color:#eee;">y</div>
<div class="a" style="left:917.5px;top:419.5px;font-size:17.5px;color:#eee;">x</div>
<div class="a" style="left:763.5px;top:146.3px;font-size:8.8px;color:#ddd;">CIE 1931</div>
<svg width="960" height="720"><circle cx="746.3" cy="324.2" r="2.2" fill="none" stroke="#c8b020" stroke-width="1.2"/><circle cx="757" cy="322.5" r="2.2" fill="none" stroke="#2890a8" stroke-width="1.2"/><circle cx="770.8" cy="324.7" r="2.2" fill="#803890" stroke="#602878" stroke-width="1.2"/><circle cx="789.7" cy="327" r="2.2" fill="#3a8060" stroke="#306850" stroke-width="1.2"/></svg>
<div class="a" style="left:739.0px;top:306.0px;width:12px;text-align:center;font-size:11px;color:#222;">1</div>
<div class="a" style="left:751.5px;top:305.5px;width:12px;text-align:center;font-size:11px;color:#222;">2</div>
<div class="a" style="left:765.7px;top:308.5px;width:12px;text-align:center;font-size:11px;color:#222;">3</div>
<div class="a" style="left:784.8px;top:311.0px;width:12px;text-align:center;font-size:11px;color:#222;">4</div>
<div class="a" style="left:629px;top:81px;width:44.0px;height:46px;background:#0c0508;"></div>
<div class="a" style="left:672.5px;top:81px;width:44.5px;height:46px;background:#0a0506;"></div>
<div class="a" style="left:716.5px;top:81px;width:43.799999999999955px;height:46px;background:#080406;"></div>
<div class="a" style="left:759.8px;top:81px;width:44.700000000000045px;height:46px;background:#050505;"></div>
<div class="a" style="left:804px;top:81px;width:45.5px;height:46px;background:#0a110c;"></div>
<div class="a" style="left:849px;top:81px;width:45.10000000000002px;height:46px;background:#060a10;"></div>
<div class="a" style="left:893.6px;top:81px;width:42.89999999999998px;height:46px;background:#041a1a;"></div>
<div class="a" style="left:632.0px;top:102.0px;width:36px;height:22px;border-radius:50%;background:#4a1238;transform:rotate(35deg);filter:blur(4px);opacity:1;"></div>
<div class="a" style="left:676.0px;top:100.0px;width:36px;height:22px;border-radius:50%;background:#2e1420;transform:rotate(35deg);filter:blur(4px);opacity:1;"></div>
<div class="a" style="left:717.0px;top:87.0px;width:40px;height:34px;border-radius:30%;background:#3a1a30;transform:rotate(15deg);filter:blur(5px);opacity:0.7;"></div>
<div class="a" style="left:807.0px;top:88.0px;width:40px;height:34px;border-radius:30%;background:#18261c;transform:rotate(30deg);filter:blur(5px);opacity:0.7;"></div>
<div class="a" style="left:847.0px;top:91.0px;width:42px;height:34px;border-radius:50%;background:#203850;transform:rotate(40deg);filter:blur(5px);opacity:0.9;"></div>
<div class="a" style="left:892.0px;top:89.0px;width:42px;height:36px;border-radius:50%;background:#0a3a3a;transform:rotate(40deg);filter:blur(5px);opacity:0.9;"></div>
<div class="a" style="left:640.0px;top:93.5px;width:28px;height:17px;border-radius:4px;background:radial-gradient(ellipse at 62% 58%,#ffffff 0%,#fff0fa 35%,#f8c4ea 65%,#e060c4 100%);transform:rotate(34deg);filter:blur(1.3px);opacity:1;"></div>
<div class="a" style="left:683.5px;top:91.5px;width:29px;height:18px;border-radius:4px;background:radial-gradient(ellipse at 58% 58%,#ffffff 0%,#fff2fa 40%,#fad0f0 70%,#ee88d4 100%);transform:rotate(34deg);filter:blur(1.3px);opacity:1;"></div>
<div class="a" style="left:723.0px;top:89.5px;width:28px;height:25px;border-radius:6px;background:radial-gradient(ellipse at 50% 55%,#fff8fc 0%,#f8e4f2 55%,#e8b0d8 100%);transform:rotate(14deg);filter:blur(2px);opacity:1;"></div>
<div class="a" style="left:764.5px;top:97.0px;width:38px;height:16px;border-radius:8px;background:radial-gradient(ellipse at 50% 50%,#ffffff 0%,#f0f0f0 55%,#c8c8c8 100%);transform:rotate(45deg);filter:blur(2px);opacity:1;"></div>
<div class="a" style="left:809.5px;top:96.5px;width:34px;height:18px;border-radius:4px;background:linear-gradient(180deg,#f4f4f4 0%,#e4e4e4 70%,#b8b8b8 100%);transform:rotate(33deg);filter:blur(1px);opacity:1;"></div>
<div class="a" style="left:850.5px;top:99.5px;width:36px;height:17px;border-radius:8px;background:radial-gradient(ellipse at 50% 50%,#ffffff 0%,#f0fffc 50%,#a8f4f0 100%);transform:rotate(42deg);filter:blur(1.6px);opacity:1;"></div>
<div class="a" style="left:896.0px;top:98.0px;width:34px;height:17px;border-radius:8px;background:radial-gradient(ellipse at 50% 50%,#f8ffff 0%,#c8fcfc 40%,#58e8f0 100%);transform:rotate(40deg);filter:blur(1.6px);opacity:1;"></div>
<div class="a" style="left:629px;top:125px;width:307px;height:16px;background:#000;"></div>
<div class="a" style="left:634.9px;top:126.5px;font-size:14.3px;font-weight:bold;color:#fff;transform:scaleX(0.842);transform-origin:0 0;">298 K</div>
<div class="a" style="left:682.6px;top:126.5px;font-size:14.3px;font-weight:bold;color:#fff;transform:scaleX(0.840);transform-origin:0 0;">250 K</div>
<div class="a" style="left:724.0px;top:126.5px;font-size:14.3px;font-weight:bold;color:#fff;transform:scaleX(0.850);transform-origin:0 0;">200 K</div>
<div class="a" style="left:768.7px;top:126.5px;font-size:14.3px;font-weight:bold;color:#fff;transform:scaleX(0.837);transform-origin:0 0;">180 K</div>
<div class="a" style="left:813.1px;top:126.5px;font-size:14.3px;font-weight:bold;color:#fff;transform:scaleX(0.842);transform-origin:0 0;">160 K</div>
<div class="a" style="left:858.3px;top:126.5px;font-size:14.3px;font-weight:bold;color:#fff;transform:scaleX(0.842);transform-origin:0 0;">120 K</div>
<div class="a" style="left:902.9px;top:126.5px;font-size:14.3px;font-weight:bold;color:#fff;transform:scaleX(0.816);transform-origin:0 0;">77 K</div>
<div class="a" style="left:634.4px;top:53.8px;font-size:12.5px;font-weight:bold;color:#111;transform:scaleX(0.870);transform-origin:0 0;">R.T</div>
<div class="a" style="left:691.4px;top:32.3px;font-size:13px;font-weight:bold;color:#111;transform:scaleX(0.922);transform-origin:0 0;">Cooling</div>
<div class="a" style="left:695.7px;top:63.3px;font-size:13px;font-weight:bold;color:#111;transform:scaleX(0.972);transform-origin:0 0;">Heating</div>
<div class="a" style="left:770.5px;top:52.6px;font-size:13.7px;font-weight:bold;color:#111;transform:scaleX(0.871);transform-origin:0 0;">180 K</div>
<div class="a" style="left:827.2px;top:31.8px;font-size:13px;font-weight:bold;color:#111;transform:scaleX(0.922);transform-origin:0 0;">Cooling</div>
<div class="a" style="left:831.7px;top:63.3px;font-size:13px;font-weight:bold;color:#111;transform:scaleX(0.966);transform-origin:0 0;">Heating</div>
<div class="a" style="left:902.2px;top:53.0px;font-size:13.5px;font-weight:bold;color:#111;transform:scaleX(0.842);transform-origin:0 0;">77 K</div>
<svg width="960" height="720">
<line x1="680.8" y1="50.9" x2="755.3" y2="50.9" stroke="#9fb0d4" stroke-width="1.5"/>
<polyline points="750.3,47.699999999999996 755.3,50.9 750.3,54.1" fill="none" stroke="#9fb0d4" stroke-width="1.4"/>
<line x1="677.5" y1="61.2" x2="755.8" y2="61.2" stroke="#9fb0d4" stroke-width="1.5"/>
<polyline points="682.5,58.0 677.5,61.2 682.5,64.4" fill="none" stroke="#9fb0d4" stroke-width="1.4"/>
<line x1="816.7" y1="50.2" x2="891.3" y2="50.2" stroke="#9fb0d4" stroke-width="1.5"/>
<polyline points="886.3,47.0 891.3,50.2 886.3,53.400000000000006" fill="none" stroke="#9fb0d4" stroke-width="1.4"/>
<line x1="813" y1="60.5" x2="891.7" y2="60.5" stroke="#9fb0d4" stroke-width="1.5"/>
<polyline points="818,57.3 813,60.5 818,63.7" fill="none" stroke="#9fb0d4" stroke-width="1.4"/>
</svg>
<div class="a" style="left:147px;top:504px;width:673px;height:56px;background:#000;"></div>
<div class="a" style="left:147px;top:559.5px;width:673px;height:118.5px;background:linear-gradient(90deg,#100e2c 0%,#0e0c2a 8.2%,#1e0812 9.8%,#1e0812 11.6%,#1a0a18 18.8%,#1a0a1a 20.8%,#0e0a22 22.6%,#0c0a22 32%,#100a24 45%,#0c0a20 60%,#0a0a1e 75%,#0a0c20 100%);"></div>
<div class="a" style="left:158.3px;top:594.4px;width:46.7px;height:78.1px;background:#2424b4;opacity:0.22;filter:blur(4px);"></div>
<div class="a" style="left:161.3px;top:564.5px;width:40.7px;height:35.9px;background:linear-gradient(180deg,#3a3aa8 0%,#3434e0 100%);opacity:0.4;"></div>
<div class="a" style="left:161.3px;top:598.4px;width:40.7px;height:72.1px;background:linear-gradient(180deg,#4a4aff 0%,#4a4aff 8%,#3434e0 20%,#3434e0 35%,#2424b4 100%);"></div>
<div class="a" style="left:163.8px;top:567.0px;width:11.5px;height:32.4px;border-radius:2px 2px 48% 48% / 2px 2px 7px 7px;background:#141034;opacity:0.88;box-shadow:0 2px 2.5px #4a4aff;"></div>
<div class="a" style="left:180.3px;top:567.0px;width:19.2px;height:32.4px;border-radius:2px 2px 48% 48% / 2px 2px 7px 7px;background:#141034;opacity:0.88;box-shadow:0 2px 2.5px #4a4aff;"></div>
<div class="a" style="left:161.3px;top:564.5px;width:40.7px;height:106.0px;box-sizing:border-box;border:1.2px solid #3a3aa8;opacity:0.55;"></div>
<div class="a" style="left:177.2px;top:564.5px;width:1.2px;height:106.0px;background:#3a3aa8;opacity:0.5;"></div>
<div class="a" style="left:177.3px;top:604.4px;width:1px;height:66.1px;background:rgba(20,16,60,0.45);"></div>
<div class="a" style="left:223.4px;top:598.7px;width:50.3px;height:74.6px;background:#dccdf0;opacity:0.22;filter:blur(4px);"></div>
<div class="a" style="left:226.4px;top:562.8px;width:44.3px;height:41.9px;background:linear-gradient(180deg,#9080c8 0%,#8c88ec 100%);opacity:0.4;"></div>
<div class="a" style="left:226.4px;top:602.7px;width:44.3px;height:68.6px;background:linear-gradient(180deg,#c070f0 0%,#c070f0 8%,#8c88ec 20%,#8c88ec 35%,#dccdf0 100%);"></div>
<div class="a" style="left:228.9px;top:565.3px;width:13.2px;height:38.4px;border-radius:2px 2px 48% 48% / 2px 2px 7px 7px;background:#141034;opacity:0.88;box-shadow:0 2px 2.5px #c070f0;"></div>
<div class="a" style="left:247.1px;top:565.3px;width:21.1px;height:38.4px;border-radius:2px 2px 48% 48% / 2px 2px 7px 7px;background:#141034;opacity:0.88;box-shadow:0 2px 2.5px #c070f0;"></div>
<div class="a" style="left:226.4px;top:562.8px;width:44.3px;height:108.5px;box-sizing:border-box;border:1.2px solid #9080c8;opacity:0.55;"></div>
<div class="a" style="left:244.0px;top:562.8px;width:1.2px;height:108.5px;background:#9080c8;opacity:0.5;"></div>
<div class="a" style="left:244.1px;top:608.7px;width:1px;height:62.6px;background:rgba(20,16,60,0.45);"></div>
<div class="a" style="left:298.7px;top:599.6px;width:46.8px;height:75.4px;background:#d2b8f0;opacity:0.22;filter:blur(4px);"></div>
<div class="a" style="left:301.7px;top:562.8px;width:40.8px;height:42.8px;background:linear-gradient(180deg,#9888d0 0%,#ac8cec 100%);opacity:0.4;"></div>
<div class="a" style="left:301.7px;top:603.6px;width:40.8px;height:69.4px;background:linear-gradient(180deg,#d070f0 0%,#d070f0 8%,#ac8cec 20%,#ac8cec 35%,#d2b8f0 100%);"></div>
<div class="a" style="left:304.2px;top:565.3px;width:11.5px;height:39.3px;border-radius:2px 2px 48% 48% / 2px 2px 7px 7px;background:#141034;opacity:0.88;box-shadow:0 2px 2.5px #d070f0;"></div>
<div class="a" style="left:320.7px;top:565.3px;width:19.3px;height:39.3px;border-radius:2px 2px 48% 48% / 2px 2px 7px 7px;background:#141034;opacity:0.88;box-shadow:0 2px 2.5px #d070f0;"></div>
<div class="a" style="left:301.7px;top:562.8px;width:40.8px;height:110.2px;box-sizing:border-box;border:1.2px solid #9888d0;opacity:0.55;"></div>
<div class="a" style="left:317.6px;top:562.8px;width:1.2px;height:110.2px;background:#9888d0;opacity:0.5;"></div>
<div class="a" style="left:317.7px;top:609.6px;width:1px;height:63.4px;background:rgba(20,16,60,0.45);"></div>
<div class="a" style="left:368.2px;top:602.0px;width:47.7px;height:72.0px;background:#a852d8;opacity:0.22;filter:blur(4px);"></div>
<div class="a" style="left:371.2px;top:563.0px;width:41.7px;height:45.0px;background:linear-gradient(180deg,#8860c8 0%,#b858e6 100%);opacity:0.4;"></div>
<div class="a" style="left:371.2px;top:606.0px;width:41.7px;height:66.0px;background:linear-gradient(180deg,#f060f0 0%,#f060f0 8%,#b858e6 20%,#b858e6 35%,#a852d8 100%);"></div>
<div class="a" style="left:373.7px;top:565.5px;width:17.6px;height:41.5px;border-radius:2px 2px 48% 48% / 2px 2px 7px 7px;background:#141034;opacity:0.88;box-shadow:0 2px 2.5px #f060f0;"></div>
<div class="a" style="left:396.3px;top:565.5px;width:14.1px;height:41.5px;border-radius:2px 2px 48% 48% / 2px 2px 7px 7px;background:#141034;opacity:0.88;box-shadow:0 2px 2.5px #f060f0;"></div>
<div class="a" style="left:371.2px;top:563.0px;width:41.7px;height:109.0px;box-sizing:border-box;border:1.2px solid #8860c8;opacity:0.55;"></div>
<div class="a" style="left:393.2px;top:563.0px;width:1.2px;height:109.0px;background:#8860c8;opacity:0.5;"></div>
<div class="a" style="left:393.3px;top:612.0px;width:1px;height:60.0px;background:rgba(20,16,60,0.45);"></div>
<div class="a" style="left:439.1px;top:602.0px;width:49.1px;height:70.6px;background:#a050d8;opacity:0.22;filter:blur(4px);"></div>
<div class="a" style="left:442.1px;top:563.3px;width:43.1px;height:44.7px;background:linear-gradient(180deg,#8860c8 0%,#ac56e2 100%);opacity:0.4;"></div>
<div class="a" style="left:442.1px;top:606.0px;width:43.1px;height:64.6px;background:linear-gradient(180deg,#e858f0 0%,#e858f0 8%,#ac56e2 20%,#ac56e2 35%,#a050d8 100%);"></div>
<div class="a" style="left:444.6px;top:565.8px;width:18.3px;height:41.2px;border-radius:2px 2px 48% 48% / 2px 2px 7px 7px;background:#141034;opacity:0.88;box-shadow:0 2px 2.5px #e858f0;"></div>
<div class="a" style="left:467.9px;top:565.8px;width:14.8px;height:41.2px;border-radius:2px 2px 48% 48% / 2px 2px 7px 7px;background:#141034;opacity:0.88;box-shadow:0 2px 2.5px #e858f0;"></div>
<div class="a" style="left:442.1px;top:563.3px;width:43.1px;height:107.3px;box-sizing:border-box;border:1.2px solid #8860c8;opacity:0.55;"></div>
<div class="a" style="left:464.8px;top:563.3px;width:1.2px;height:107.3px;background:#8860c8;opacity:0.5;"></div>
<div class="a" style="left:464.9px;top:612.0px;width:1px;height:58.6px;background:rgba(20,16,60,0.45);"></div>
<div class="a" style="left:503.0px;top:601.0px;width:49.8px;height:72.7px;background:#b0a0e0;opacity:0.22;filter:blur(4px);"></div>
<div class="a" style="left:506.0px;top:563.3px;width:43.8px;height:43.7px;background:linear-gradient(180deg,#8078c8 0%,#6c62e4 100%);opacity:0.4;"></div>
<div class="a" style="left:506.0px;top:605.0px;width:43.8px;height:66.7px;background:linear-gradient(180deg,#a868f0 0%,#a868f0 8%,#6c62e4 20%,#6c62e4 35%,#b0a0e0 100%);"></div>
<div class="a" style="left:508.5px;top:565.8px;width:13.8px;height:40.2px;border-radius:2px 2px 48% 48% / 2px 2px 7px 7px;background:#141034;opacity:0.88;box-shadow:0 2px 2.5px #a868f0;"></div>
<div class="a" style="left:527.3px;top:565.8px;width:20.0px;height:40.2px;border-radius:2px 2px 48% 48% / 2px 2px 7px 7px;background:#141034;opacity:0.88;box-shadow:0 2px 2.5px #a868f0;"></div>
<div class="a" style="left:506.0px;top:563.3px;width:43.8px;height:108.4px;box-sizing:border-box;border:1.2px solid #8078c8;opacity:0.55;"></div>
<div class="a" style="left:524.2px;top:563.3px;width:1.2px;height:108.4px;background:#8078c8;opacity:0.5;"></div>
<div class="a" style="left:524.3px;top:611.0px;width:1px;height:60.7px;background:rgba(20,16,60,0.45);"></div>
<div class="a" style="left:572.8px;top:600.0px;width:44.6px;height:74.7px;background:#c8c8e8;opacity:0.22;filter:blur(4px);"></div>
<div class="a" style="left:575.8px;top:562.3px;width:38.6px;height:43.7px;background:linear-gradient(180deg,#a8a0d8 0%,#e0e0f6 100%);opacity:0.4;"></div>
<div class="a" style="left:575.8px;top:604.0px;width:38.6px;height:68.7px;background:linear-gradient(180deg,#f8f4ff 0%,#f8f4ff 8%,#e0e0f6 20%,#e0e0f6 35%,#c8c8e8 100%);"></div>
<div class="a" style="left:578.3px;top:564.8px;width:13.8px;height:40.2px;border-radius:2px 2px 48% 48% / 2px 2px 7px 7px;background:#141034;opacity:0.88;box-shadow:0 2px 2.5px #f8f4ff;"></div>
<div class="a" style="left:597.1px;top:564.8px;width:14.8px;height:40.2px;border-radius:2px 2px 48% 48% / 2px 2px 7px 7px;background:#141034;opacity:0.88;box-shadow:0 2px 2.5px #f8f4ff;"></div>
<div class="a" style="left:575.8px;top:562.3px;width:38.6px;height:110.4px;box-sizing:border-box;border:1.2px solid #a8a0d8;opacity:0.55;"></div>
<div class="a" style="left:594.0px;top:562.3px;width:1.2px;height:110.4px;background:#a8a0d8;opacity:0.5;"></div>
<div class="a" style="left:594.1px;top:610.0px;width:1px;height:62.7px;background:rgba(20,16,60,0.45);"></div>
<div class="a" style="left:627.5px;top:596.2px;width:51.3px;height:80.8px;background:#9ccad8;opacity:0.22;filter:blur(4px);"></div>
<div class="a" style="left:630.5px;top:563.8px;width:45.3px;height:38.4px;background:linear-gradient(180deg,#8890c8 0%,#b4e4e0 100%);opacity:0.4;"></div>
<div class="a" style="left:630.5px;top:600.2px;width:45.3px;height:74.8px;background:linear-gradient(180deg,#e8fff4 0%,#e8fff4 8%,#b4e4e0 20%,#b4e4e0 35%,#9ccad8 100%);"></div>
<div class="a" style="left:633.0px;top:566.3px;width:12.9px;height:34.9px;border-radius:2px 2px 48% 48% / 2px 2px 7px 7px;background:#141034;opacity:0.88;box-shadow:0 2px 2.5px #e8fff4;"></div>
<div class="a" style="left:650.9px;top:566.3px;width:22.4px;height:34.9px;border-radius:2px 2px 48% 48% / 2px 2px 7px 7px;background:#141034;opacity:0.88;box-shadow:0 2px 2.5px #e8fff4;"></div>
<div class="a" style="left:630.5px;top:563.8px;width:45.3px;height:111.2px;box-sizing:border-box;border:1.2px solid #8890c8;opacity:0.55;"></div>
<div class="a" style="left:647.8px;top:563.8px;width:1.2px;height:111.2px;background:#8890c8;opacity:0.5;"></div>
<div class="a" style="left:647.9px;top:606.2px;width:1px;height:68.8px;background:rgba(20,16,60,0.45);"></div>
<div class="a" style="left:692.8px;top:598.3px;width:51.8px;height:77.6px;background:#6cb0d0;opacity:0.22;filter:blur(4px);"></div>
<div class="a" style="left:695.8px;top:564.5px;width:45.8px;height:39.8px;background:linear-gradient(180deg,#7888c8 0%,#88ccd8 100%);opacity:0.4;"></div>
<div class="a" style="left:695.8px;top:602.3px;width:45.8px;height:71.6px;background:linear-gradient(180deg,#c8fff4 0%,#c8fff4 8%,#88ccd8 20%,#88ccd8 35%,#6cb0d0 100%);"></div>
<div class="a" style="left:698.3px;top:567.0px;width:11.8px;height:36.3px;border-radius:2px 2px 48% 48% / 2px 2px 7px 7px;background:#141034;opacity:0.88;box-shadow:0 2px 2.5px #c8fff4;"></div>
<div class="a" style="left:715.1px;top:567.0px;width:24.0px;height:36.3px;border-radius:2px 2px 48% 48% / 2px 2px 7px 7px;background:#141034;opacity:0.88;box-shadow:0 2px 2.5px #c8fff4;"></div>
<div class="a" style="left:695.8px;top:564.5px;width:45.8px;height:109.4px;box-sizing:border-box;border:1.2px solid #7888c8;opacity:0.55;"></div>
<div class="a" style="left:712.0px;top:564.5px;width:1.2px;height:109.4px;background:#7888c8;opacity:0.5;"></div>
<div class="a" style="left:712.1px;top:608.3px;width:1px;height:65.6px;background:rgba(20,16,60,0.45);"></div>
<div class="a" style="left:761.1px;top:599.0px;width:50.2px;height:75.0px;background:#4c8cc8;opacity:0.22;filter:blur(4px);"></div>
<div class="a" style="left:764.1px;top:564.5px;width:44.2px;height:40.5px;background:linear-gradient(180deg,#6878c0 0%,#5c9cd8 100%);opacity:0.4;"></div>
<div class="a" style="left:764.1px;top:603.0px;width:44.2px;height:69.0px;background:linear-gradient(180deg,#a8f4f0 0%,#a8f4f0 8%,#5c9cd8 20%,#5c9cd8 35%,#4c8cc8 100%);"></div>
<div class="a" style="left:766.6px;top:567.0px;width:12.9px;height:37.0px;border-radius:2px 2px 48% 48% / 2px 2px 7px 7px;background:#141034;opacity:0.88;box-shadow:0 2px 2.5px #a8f4f0;"></div>
<div class="a" style="left:784.5px;top:567.0px;width:21.3px;height:37.0px;border-radius:2px 2px 48% 48% / 2px 2px 7px 7px;background:#141034;opacity:0.88;box-shadow:0 2px 2.5px #a8f4f0;"></div>
<div class="a" style="left:764.1px;top:564.5px;width:44.2px;height:107.5px;box-sizing:border-box;border:1.2px solid #6878c0;opacity:0.55;"></div>
<div class="a" style="left:781.4px;top:564.5px;width:1.2px;height:107.5px;background:#6878c0;opacity:0.5;"></div>
<div class="a" style="left:781.5px;top:609.0px;width:1px;height:63.0px;background:rgba(20,16,60,0.45);"></div>
<div class="a sb" style="left:147.5px;top:509px;font-size:17.5px;color:#fff;transform:scaleX(1.08);transform-origin:0 0;">MOF</div>
<div class="a sb" style="left:148px;top:534.3px;font-size:17.5px;color:#fff;">only</div>
<div class="a sb" style="left:231.5px;top:510.5px;font-size:16.5px;color:#fff;transform:scaleX(1.1);transform-origin:0 0;">Eu/Tb</div>
<div class="a sr" style="left:229.0px;top:530.0px;font-size:23px;color:#fff;transform:scaleX(1.141);transform-origin:0 0;">1:0</div>
<div class="a sr" style="left:297.8px;top:530.0px;font-size:23px;color:#fff;transform:scaleX(1.171);transform-origin:0 0;">3:0</div>
<div class="a sr" style="left:367.8px;top:530.0px;font-size:23px;color:#fff;transform:scaleX(1.096);transform-origin:0 0;">5:0</div>
<div class="a sr" style="left:442.1px;top:530.0px;font-size:23px;color:#fff;transform:scaleX(1.133);transform-origin:0 0;">5:5</div>
<div class="a sr" style="left:511.1px;top:530.0px;font-size:23px;color:#fff;transform:scaleX(1.131);transform-origin:0 0;">5:10</div>
<div class="a sr" style="left:574.1px;top:530.0px;font-size:23px;color:#fff;transform:scaleX(1.105);transform-origin:0 0;">5:14</div>
<div class="a sr" style="left:636.6px;top:530.0px;font-size:23px;color:#fff;transform:scaleX(1.133);transform-origin:0 0;">5:18</div>
<div class="a sr" style="left:698.1px;top:530.0px;font-size:23px;color:#fff;transform:scaleX(1.105);transform-origin:0 0;">5:24</div>
<div class="a sr" style="left:767.1px;top:530.0px;font-size:23px;color:#fff;transform:scaleX(1.131);transform-origin:0 0;">5:30</div>
</body></html>
